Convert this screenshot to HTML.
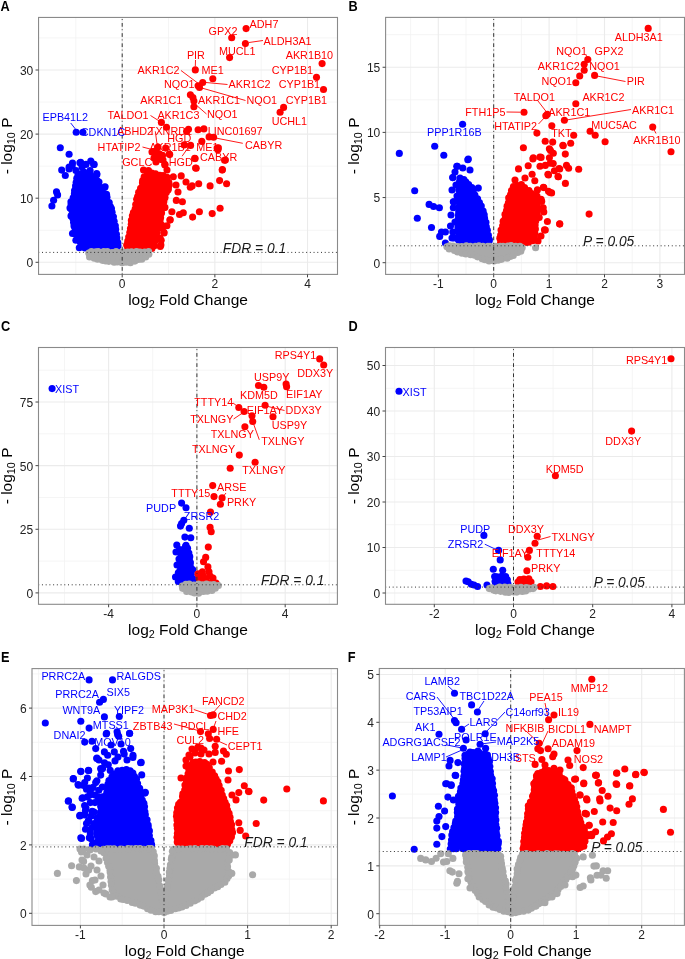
<!DOCTYPE html><html><head><meta charset="utf-8"><style>html,body{margin:0;padding:0;background:#fff;}svg{display:block;filter:blur(0.35px);}text{font-family:"Liberation Sans", sans-serif;}</style></head><body>
<svg width="685" height="959" viewBox="0 0 685 959">
<rect width="685" height="959" fill="#fff"/>
<g>
<line x1="75.87" y1="17.45" x2="75.87" y2="274.4" stroke="#f2f2f2" stroke-width="0.8"/>
<line x1="168.53" y1="17.45" x2="168.53" y2="274.4" stroke="#f2f2f2" stroke-width="0.8"/>
<line x1="261.19" y1="17.45" x2="261.19" y2="274.4" stroke="#f2f2f2" stroke-width="0.8"/>
<line x1="38.55" y1="230.25" x2="337.5" y2="230.25" stroke="#f2f2f2" stroke-width="0.8"/>
<line x1="38.55" y1="166.15" x2="337.5" y2="166.15" stroke="#f2f2f2" stroke-width="0.8"/>
<line x1="38.55" y1="102.05" x2="337.5" y2="102.05" stroke="#f2f2f2" stroke-width="0.8"/>
<line x1="38.55" y1="37.95" x2="337.5" y2="37.95" stroke="#f2f2f2" stroke-width="0.8"/>
<line x1="122.2" y1="17.45" x2="122.2" y2="274.4" stroke="#ebebeb" stroke-width="1.1"/>
<line x1="214.86" y1="17.45" x2="214.86" y2="274.4" stroke="#ebebeb" stroke-width="1.1"/>
<line x1="307.52" y1="17.45" x2="307.52" y2="274.4" stroke="#ebebeb" stroke-width="1.1"/>
<line x1="38.55" y1="262.3" x2="337.5" y2="262.3" stroke="#ebebeb" stroke-width="1.1"/>
<line x1="38.55" y1="198.2" x2="337.5" y2="198.2" stroke="#ebebeb" stroke-width="1.1"/>
<line x1="38.55" y1="134.1" x2="337.5" y2="134.1" stroke="#ebebeb" stroke-width="1.1"/>
<line x1="38.55" y1="70" x2="337.5" y2="70" stroke="#ebebeb" stroke-width="1.1"/>
</g>
<path d="M79.63,178.64 L75.9,182.37 L75.06,190.69 L70.77,202.19 L72.18,215.93 L76.47,235.8 L81.74,246.42 L84.9,248.48 L118.61,248.48 L117.31,237.25 L112.98,214.19 L105.97,194.61 L99.41,187.65 L95.62,178.19 L89.77,175.26 L79.63,178.64Z" fill="#0000ff"/>
<g fill="#0000ff"><circle cx="79.17" cy="179.67" r="3.55"/><circle cx="76.18" cy="182.2" r="3.55"/><circle cx="75.58" cy="185.78" r="3.55"/><circle cx="74.57" cy="190.48" r="3.55"/><circle cx="74.39" cy="193.73" r="3.55"/><circle cx="73.18" cy="197.84" r="3.55"/><circle cx="70.95" cy="201.68" r="3.55"/><circle cx="71.11" cy="204.61" r="3.55"/><circle cx="71.22" cy="208.96" r="3.55"/><circle cx="71.92" cy="214.48" r="3.55"/><circle cx="72.85" cy="218.22" r="3.55"/><circle cx="73.55" cy="222.22" r="3.55"/><circle cx="75.18" cy="227.46" r="3.55"/><circle cx="75.13" cy="230.29" r="3.55"/><circle cx="75.56" cy="234.29" r="3.55"/><circle cx="77.97" cy="237.84" r="3.55"/><circle cx="80.21" cy="241.89" r="3.55"/><circle cx="81.57" cy="245.04" r="3.55"/><circle cx="84.9" cy="247.97" r="3.55"/><circle cx="88.9" cy="248.21" r="3.55"/><circle cx="91.59" cy="249.04" r="3.55"/><circle cx="96.56" cy="248.18" r="3.55"/><circle cx="99.53" cy="248.84" r="3.55"/><circle cx="104.38" cy="248.42" r="3.55"/><circle cx="108.73" cy="248.04" r="3.55"/><circle cx="112.86" cy="248.39" r="3.55"/><circle cx="116.45" cy="249.05" r="3.55"/><circle cx="118.01" cy="245.76" r="3.55"/><circle cx="117.76" cy="242.6" r="3.55"/><circle cx="116.85" cy="237.96" r="3.55"/><circle cx="116.42" cy="234.34" r="3.55"/><circle cx="115.66" cy="229.26" r="3.55"/><circle cx="115.32" cy="225.8" r="3.55"/><circle cx="114.15" cy="221.18" r="3.55"/><circle cx="113.41" cy="216.69" r="3.55"/><circle cx="112.09" cy="212.35" r="3.55"/><circle cx="111.44" cy="208.52" r="3.55"/><circle cx="110.35" cy="206.58" r="3.55"/><circle cx="109.21" cy="202.62" r="3.55"/><circle cx="106.96" cy="197.17" r="3.55"/><circle cx="106.54" cy="194.33" r="3.55"/><circle cx="102.12" cy="191.23" r="3.55"/><circle cx="99.46" cy="187.58" r="3.55"/><circle cx="97.45" cy="183.72" r="3.55"/><circle cx="96.96" cy="180.6" r="3.55"/><circle cx="95.04" cy="177.29" r="3.55"/><circle cx="90.97" cy="175.93" r="3.55"/><circle cx="86.97" cy="175.9" r="3.55"/><circle cx="82.2" cy="177.47" r="3.55"/></g>
<g fill="#0000ff"><circle cx="60.3" cy="147.7" r="3.55"/><circle cx="69.1" cy="154.2" r="3.55"/><circle cx="61.7" cy="170.1" r="3.55"/><circle cx="65.3" cy="175.5" r="3.55"/><circle cx="56.5" cy="191.9" r="3.55"/><circle cx="57.6" cy="194.9" r="3.55"/><circle cx="53.6" cy="200.3" r="3.55"/><circle cx="51.9" cy="206" r="3.55"/><circle cx="75.9" cy="188.4" r="3.55"/><circle cx="105.1" cy="186.8" r="3.55"/><circle cx="72.5" cy="163" r="3.55"/><circle cx="69.1" cy="167.1" r="3.55"/><circle cx="80.7" cy="162.4" r="3.55"/><circle cx="90.8" cy="161" r="3.55"/><circle cx="94.2" cy="164.4" r="3.55"/><circle cx="75.9" cy="170.5" r="3.55"/><circle cx="82" cy="167.1" r="3.55"/><circle cx="90.1" cy="170.5" r="3.55"/><circle cx="96.9" cy="174.6" r="3.55"/><circle cx="80.7" cy="180.7" r="3.55"/><circle cx="91.5" cy="183.4" r="3.55"/><circle cx="84.7" cy="184.7" r="3.55"/><circle cx="72.5" cy="233.5" r="3.55"/><circle cx="75.9" cy="240.3" r="3.55"/><circle cx="79.3" cy="247.8" r="3.55"/><circle cx="76.2" cy="132.2" r="3.55"/><circle cx="82.9" cy="132.2" r="3.55"/><circle cx="72.2" cy="165.9" r="3.55"/><circle cx="79.9" cy="162.8" r="3.55"/><circle cx="86" cy="164.4" r="3.55"/><circle cx="93.6" cy="164.4" r="3.55"/><circle cx="96.7" cy="173.6" r="3.55"/><circle cx="89" cy="175.1" r="3.55"/><circle cx="81.4" cy="173.6" r="3.55"/><circle cx="76.8" cy="178.2" r="3.55"/><circle cx="84.5" cy="181.2" r="3.55"/><circle cx="92.1" cy="182.8" r="3.55"/><circle cx="98.2" cy="184.3" r="3.55"/><circle cx="104.4" cy="187.4" r="3.55"/><circle cx="69.1" cy="169" r="3.55"/><circle cx="78" cy="175" r="3.55"/><circle cx="86" cy="176" r="3.55"/><circle cx="93" cy="178" r="3.55"/><circle cx="99" cy="182" r="3.55"/><circle cx="88" cy="189" r="3.55"/><circle cx="84" cy="172" r="3.55"/><circle cx="71" cy="216" r="3.55"/><circle cx="70" cy="208" r="3.55"/><circle cx="74" cy="226" r="3.55"/></g>
<path d="M125.71,247.98 L153.55,247.98 L154.73,242.35 L156.45,231.64 L159.97,219.39 L163.48,201.79 L167.95,189.31 L169.48,184.81 L168.14,178.34 L162.81,175.68 L154.4,173.96 L150.05,173.09 L145.53,174.13 L143.81,177.44 L141.29,185.87 L136.01,203.4 L131.75,220.76 L128.24,238.28 L125.71,247.98Z" fill="#ff0000"/>
<g fill="#ff0000"><circle cx="127.77" cy="248.17" r="3.55"/><circle cx="131.13" cy="247.55" r="3.55"/><circle cx="133.52" cy="248.47" r="3.55"/><circle cx="139.93" cy="247.41" r="3.55"/><circle cx="143.41" cy="248.26" r="3.55"/><circle cx="147.67" cy="247.47" r="3.55"/><circle cx="151.9" cy="248.46" r="3.55"/><circle cx="154.32" cy="245.84" r="3.55"/><circle cx="154.75" cy="241.33" r="3.55"/><circle cx="156.03" cy="236.92" r="3.55"/><circle cx="156.65" cy="233.18" r="3.55"/><circle cx="156.98" cy="229.41" r="3.55"/><circle cx="157.76" cy="225.5" r="3.55"/><circle cx="160.04" cy="220.98" r="3.55"/><circle cx="160.6" cy="217.74" r="3.55"/><circle cx="161.55" cy="212.97" r="3.55"/><circle cx="161.5" cy="209" r="3.55"/><circle cx="162.47" cy="205.47" r="3.55"/><circle cx="163.85" cy="201.65" r="3.55"/><circle cx="164.4" cy="197.37" r="3.55"/><circle cx="166.27" cy="192.62" r="3.55"/><circle cx="168.34" cy="188.67" r="3.55"/><circle cx="169.27" cy="185.01" r="3.55"/><circle cx="168.79" cy="182.23" r="3.55"/><circle cx="167.02" cy="177.42" r="3.55"/><circle cx="163.11" cy="175.5" r="3.55"/><circle cx="159.85" cy="175.41" r="3.55"/><circle cx="155.55" cy="173.81" r="3.55"/><circle cx="151.75" cy="173.17" r="3.55"/><circle cx="147.56" cy="173.79" r="3.55"/><circle cx="144.18" cy="176.7" r="3.55"/><circle cx="142.7" cy="180.46" r="3.55"/><circle cx="142.46" cy="182.9" r="3.55"/><circle cx="140.58" cy="188.29" r="3.55"/><circle cx="138.67" cy="192.2" r="3.55"/><circle cx="137.64" cy="196.49" r="3.55"/><circle cx="136.68" cy="199.19" r="3.55"/><circle cx="135.71" cy="204.52" r="3.55"/><circle cx="135.14" cy="209" r="3.55"/><circle cx="133.4" cy="212.51" r="3.55"/><circle cx="132.38" cy="215.74" r="3.55"/><circle cx="131.38" cy="220.41" r="3.55"/><circle cx="131.3" cy="224.19" r="3.55"/><circle cx="130.47" cy="228.56" r="3.55"/><circle cx="129.77" cy="232.57" r="3.55"/><circle cx="128.69" cy="236.94" r="3.55"/><circle cx="127.77" cy="241.14" r="3.55"/><circle cx="126.68" cy="245.01" r="3.55"/></g>
<g fill="#ff0000"><circle cx="246.1" cy="28.6" r="3.55"/><circle cx="231.7" cy="37.7" r="3.55"/><circle cx="245.4" cy="43.6" r="3.55"/><circle cx="229.6" cy="57.6" r="3.55"/><circle cx="322.1" cy="63.6" r="3.55"/><circle cx="195.3" cy="69.9" r="3.55"/><circle cx="212.8" cy="78.7" r="3.55"/><circle cx="316.5" cy="77.3" r="3.55"/><circle cx="323.5" cy="89.5" r="3.55"/><circle cx="283.6" cy="107.4" r="3.55"/><circle cx="280.1" cy="112.3" r="3.55"/><circle cx="202.7" cy="82.5" r="3.55"/><circle cx="198.1" cy="85.7" r="3.55"/><circle cx="199.5" cy="87.5" r="3.55"/><circle cx="190.4" cy="94.8" r="3.55"/><circle cx="192.9" cy="97.6" r="3.55"/><circle cx="193.9" cy="101" r="3.55"/><circle cx="193.9" cy="106.7" r="3.55"/><circle cx="161.4" cy="122.4" r="3.55"/><circle cx="166.5" cy="127.3" r="3.55"/><circle cx="186.6" cy="131.3" r="3.55"/><circle cx="188.5" cy="129.3" r="3.55"/><circle cx="198.1" cy="129.7" r="3.55"/><circle cx="203.9" cy="128.9" r="3.55"/><circle cx="209.1" cy="136.9" r="3.55"/><circle cx="213.6" cy="137.2" r="3.55"/><circle cx="201.8" cy="141.4" r="3.55"/><circle cx="184.2" cy="144.9" r="3.55"/><circle cx="190.6" cy="145.4" r="3.55"/><circle cx="217.1" cy="148.1" r="3.55"/><circle cx="217.9" cy="149.7" r="3.55"/><circle cx="195.1" cy="158.6" r="3.55"/><circle cx="224.6" cy="160.2" r="3.55"/><circle cx="196.2" cy="168.2" r="3.55"/><circle cx="222.4" cy="169.5" r="3.55"/><circle cx="164.9" cy="165" r="3.55"/><circle cx="156.1" cy="150.5" r="3.55"/><circle cx="159.3" cy="153.8" r="3.55"/><circle cx="162.5" cy="155.4" r="3.55"/><circle cx="156.9" cy="158.6" r="3.55"/><circle cx="169.7" cy="154.6" r="3.55"/><circle cx="165.7" cy="148.1" r="3.55"/><circle cx="155.3" cy="155.4" r="3.55"/><circle cx="160.9" cy="159.4" r="3.55"/><circle cx="143.5" cy="170" r="3.55"/><circle cx="148.5" cy="170.5" r="3.55"/><circle cx="225.4" cy="160.1" r="3.55"/><circle cx="222.2" cy="170.1" r="3.55"/><circle cx="219.6" cy="180.6" r="3.55"/><circle cx="226.6" cy="183.8" r="3.55"/><circle cx="210.1" cy="185.9" r="3.55"/><circle cx="198.7" cy="183.8" r="3.55"/><circle cx="192.1" cy="185.9" r="3.55"/><circle cx="190.3" cy="187.3" r="3.55"/><circle cx="186" cy="182" r="3.55"/><circle cx="181.2" cy="175.9" r="3.55"/><circle cx="173.3" cy="176.8" r="3.55"/><circle cx="195.6" cy="168" r="3.55"/><circle cx="194.7" cy="158.4" r="3.55"/><circle cx="218.4" cy="147.9" r="3.55"/><circle cx="220.1" cy="208.3" r="3.55"/><circle cx="212.2" cy="213.6" r="3.55"/><circle cx="199.4" cy="211.8" r="3.55"/><circle cx="192.6" cy="217.1" r="3.55"/><circle cx="183.3" cy="212.7" r="3.55"/><circle cx="179.5" cy="214.5" r="3.55"/><circle cx="171.9" cy="211.8" r="3.55"/><circle cx="176.3" cy="200.4" r="3.55"/><circle cx="182.4" cy="201.7" r="3.55"/><circle cx="170.2" cy="219.7" r="3.55"/><circle cx="166.9" cy="225.8" r="3.55"/><circle cx="164.1" cy="232.9" r="3.55"/><circle cx="160.9" cy="245.1" r="3.55"/><circle cx="164.9" cy="164.2" r="3.55"/><circle cx="169.3" cy="154" r="3.55"/><circle cx="164.9" cy="197.8" r="3.55"/><circle cx="164.9" cy="207.4" r="3.55"/><circle cx="152" cy="152" r="3.55"/><circle cx="158" cy="147" r="3.55"/><circle cx="163" cy="160" r="3.55"/><circle cx="156" cy="162" r="3.55"/><circle cx="154" cy="158" r="3.55"/><circle cx="167" cy="170" r="3.55"/><circle cx="176" cy="185" r="3.55"/><circle cx="178" cy="192" r="3.55"/><circle cx="168" cy="190" r="3.55"/><circle cx="160" cy="238" r="3.55"/><circle cx="162" cy="228" r="3.55"/><circle cx="163.8" cy="207.8" r="3.55"/><circle cx="164.7" cy="197.3" r="3.55"/><circle cx="162" cy="225.3" r="3.55"/><circle cx="163.8" cy="232.3" r="3.55"/><circle cx="161.2" cy="240.2" r="3.55"/><circle cx="160.3" cy="246.4" r="3.55"/><circle cx="169.9" cy="220.1" r="3.55"/></g>
<path d="M87.74,252.02 L90.03,256.92 L101.66,259.86 L112.45,262.01 L122.06,262.97 L129.49,262.51 L141.76,259.01 L149.29,254.31 L150.07,252.02 L87.74,252.02Z" fill="#a9a9a9"/>
<g fill="#a9a9a9"><circle cx="88.83" cy="253.16" r="3.55"/><circle cx="89.58" cy="256.99" r="3.55"/><circle cx="94.25" cy="258.21" r="3.55"/><circle cx="97.59" cy="259.28" r="3.55"/><circle cx="102.38" cy="260.34" r="3.55"/><circle cx="105.81" cy="261.01" r="3.55"/><circle cx="108.9" cy="261.33" r="3.55"/><circle cx="114.11" cy="262.13" r="3.55"/><circle cx="117.41" cy="261.95" r="3.55"/><circle cx="122.01" cy="262.75" r="3.55"/><circle cx="126.07" cy="262.27" r="3.55"/><circle cx="130.41" cy="262.73" r="3.55"/><circle cx="134.91" cy="261.11" r="3.55"/><circle cx="138.26" cy="259.54" r="3.55"/><circle cx="141.76" cy="259.13" r="3.55"/><circle cx="145.7" cy="256.99" r="3.55"/><circle cx="148.83" cy="254.32" r="3.55"/><circle cx="148.65" cy="251.67" r="3.55"/><circle cx="144.61" cy="252.05" r="3.55"/><circle cx="140.02" cy="252.06" r="3.55"/><circle cx="136.5" cy="251.45" r="3.55"/><circle cx="131.5" cy="251.9" r="3.55"/><circle cx="127.71" cy="252.01" r="3.55"/><circle cx="123.18" cy="252.06" r="3.55"/><circle cx="120.58" cy="252.53" r="3.55"/><circle cx="116.12" cy="251.57" r="3.55"/><circle cx="112.13" cy="252.5" r="3.55"/><circle cx="107.34" cy="251.65" r="3.55"/><circle cx="103.72" cy="251.57" r="3.55"/><circle cx="98.25" cy="251.65" r="3.55"/><circle cx="95.83" cy="251.8" r="3.55"/><circle cx="91.42" cy="251.54" r="3.55"/></g>
<g fill="#a9a9a9"></g>
<line x1="122.2" y1="17.45" x2="122.2" y2="274.4" stroke="#333" stroke-width="1" stroke-dasharray="0.96 2.93 3.74 2.54" stroke-dashoffset="8.52"/>
<line x1="38.55" y1="252.4" x2="337.5" y2="252.4" stroke="#333" stroke-width="1" stroke-dasharray="1 2.72" stroke-dashoffset="0.27"/>
<line x1="249" y1="42.5" x2="263" y2="40.5" stroke="#ff0000" stroke-width="0.9"/>
<line x1="195.5" y1="60" x2="195.3" y2="66.5" stroke="#ff0000" stroke-width="0.9"/>
<line x1="181" y1="70.5" x2="199" y2="84" stroke="#ff0000" stroke-width="0.9"/>
<line x1="206" y1="82.5" x2="227.5" y2="84.5" stroke="#ff0000" stroke-width="0.9"/>
<line x1="200" y1="87.5" x2="245.5" y2="100.5" stroke="#ff0000" stroke-width="0.9"/>
<line x1="195" y1="104" x2="206.5" y2="114" stroke="#ff0000" stroke-width="0.9"/>
<line x1="150.5" y1="115.5" x2="160" y2="121.5" stroke="#ff0000" stroke-width="0.9"/>
<line x1="155.3" y1="131.3" x2="157.7" y2="149" stroke="#ff0000" stroke-width="0.9"/>
<line x1="142.5" y1="147" x2="152" y2="149.5" stroke="#ff0000" stroke-width="0.9"/>
<line x1="182.1" y1="156.2" x2="189" y2="146.5" stroke="#ff0000" stroke-width="0.9"/>
<line x1="214" y1="137.7" x2="242.8" y2="143.3" stroke="#ff0000" stroke-width="0.9"/>
<line x1="70.7" y1="123" x2="76.2" y2="130" stroke="#0000ff" stroke-width="0.9"/>
<text x="208.6" y="34.7" font-size="10.8" fill="#ff0000">GPX2</text>
<text x="249.6" y="28.1" font-size="10.8" fill="#ff0000">ADH7</text>
<text x="263.6" y="44.5" font-size="10.8" fill="#ff0000">ALDH3A1</text>
<text x="219" y="55" font-size="10.8" fill="#ff0000">MUCL1</text>
<text x="285.7" y="59.2" font-size="10.8" fill="#ff0000">AKR1B10</text>
<text x="186.9" y="58.5" font-size="10.8" fill="#ff0000">PIR</text>
<text x="201.6" y="74" font-size="10.8" fill="#ff0000">ME1</text>
<text x="271.7" y="74.3" font-size="10.8" fill="#ff0000">CYP1B1</text>
<text x="137.5" y="74.3" font-size="10.8" fill="#ff0000">AKR1C2</text>
<text x="164" y="88.3" font-size="10.8" fill="#ff0000">NQO1</text>
<text x="228.6" y="88.3" font-size="10.8" fill="#ff0000">AKR1C2</text>
<text x="278.7" y="88.3" font-size="10.8" fill="#ff0000">CYP1B1</text>
<text x="140.3" y="104.1" font-size="10.8" fill="#ff0000">AKR1C1</text>
<text x="198" y="104.1" font-size="10.8" fill="#ff0000">AKR1C1</text>
<text x="246.5" y="104.1" font-size="10.8" fill="#ff0000">NQO1</text>
<text x="285.7" y="104.1" font-size="10.8" fill="#ff0000">CYP1B1</text>
<text x="107.4" y="118.6" font-size="10.8" fill="#ff0000">TALDO1</text>
<text x="157.4" y="118.6" font-size="10.8" fill="#ff0000">AKR1C3</text>
<text x="207" y="118.1" font-size="10.8" fill="#ff0000">NQO1</text>
<text x="271.7" y="125.1" font-size="10.8" fill="#ff0000">UCHL1</text>
<text x="117" y="134.8" font-size="10.8" fill="#ff0000">ABHD2</text>
<text x="148.8" y="134.8" font-size="10.8" fill="#ff0000">TXNRD1</text>
<text x="207.8" y="134.7" font-size="10.8" fill="#ff0000">LINC01697</text>
<text x="167.2" y="141.8" font-size="10.8" fill="#ff0000">HGD</text>
<text x="245" y="148.5" font-size="10.8" fill="#ff0000">CABYR</text>
<text x="97.6" y="150.7" font-size="10.8" fill="#ff0000">HTATIP2</text>
<text x="149.4" y="150.7" font-size="10.8" fill="#ff0000">AKR1B1</text>
<text x="196.3" y="150.7" font-size="10.8" fill="#ff0000">ME1</text>
<text x="200" y="160.5" font-size="10.8" fill="#ff0000">CABYR</text>
<text x="122.2" y="165.5" font-size="10.8" fill="#ff0000">GCLC</text>
<text x="168.8" y="165.5" font-size="10.8" fill="#ff0000">HGD</text>
<text x="42.5" y="121" font-size="10.8" fill="#0000ff">EPB41L2</text>
<text x="80.8" y="135.7" font-size="10.8" fill="#0000ff">CDKN1C</text>
<rect x="38.55" y="17.45" width="298.95" height="256.95" fill="none" stroke="#8a8a8a" stroke-width="1.1"/>
<line x1="122.2" y1="274.4" x2="122.2" y2="277.4" stroke="#444444" stroke-width="1"/>
<text x="122.2" y="288.4" text-anchor="middle" font-size="12" fill="#222222">0</text>
<line x1="214.86" y1="274.4" x2="214.86" y2="277.4" stroke="#444444" stroke-width="1"/>
<text x="214.86" y="288.4" text-anchor="middle" font-size="12" fill="#222222">2</text>
<line x1="307.52" y1="274.4" x2="307.52" y2="277.4" stroke="#444444" stroke-width="1"/>
<text x="307.52" y="288.4" text-anchor="middle" font-size="12" fill="#222222">4</text>
<line x1="35.55" y1="262.3" x2="38.55" y2="262.3" stroke="#444444" stroke-width="1"/>
<text x="33.25" y="267.2" text-anchor="end" font-size="12" fill="#222222">0</text>
<line x1="35.55" y1="198.2" x2="38.55" y2="198.2" stroke="#444444" stroke-width="1"/>
<text x="33.25" y="203.1" text-anchor="end" font-size="12" fill="#222222">10</text>
<line x1="35.55" y1="134.1" x2="38.55" y2="134.1" stroke="#444444" stroke-width="1"/>
<text x="33.25" y="139" text-anchor="end" font-size="12" fill="#222222">20</text>
<line x1="35.55" y1="70" x2="38.55" y2="70" stroke="#444444" stroke-width="1"/>
<text x="33.25" y="74.9" text-anchor="end" font-size="12" fill="#222222">30</text>
<text x="188.03" y="304.7" text-anchor="middle" font-size="15.5" fill="#000">log<tspan font-size="10.8" dy="3.2">2</tspan><tspan dy="-3.2"> Fold Change</tspan></text>
<text transform="translate(12,145.92) rotate(-90)" text-anchor="middle" font-size="15.5" fill="#000">- log<tspan font-size="10.8" dy="3.2">10</tspan><tspan dy="-3.2"> P</tspan></text>
<text transform="translate(0.5,10.5) scale(0.85,1)" font-size="15" font-weight="bold" fill="#000">A</text>
<text x="222.8" y="252.5" font-size="13.8" font-style="italic" fill="#1a1a1a">FDR = 0.1</text>
<g>
<line x1="410.6" y1="17.4" x2="410.6" y2="274.4" stroke="#f2f2f2" stroke-width="0.8"/>
<line x1="466" y1="17.4" x2="466" y2="274.4" stroke="#f2f2f2" stroke-width="0.8"/>
<line x1="521.4" y1="17.4" x2="521.4" y2="274.4" stroke="#f2f2f2" stroke-width="0.8"/>
<line x1="576.8" y1="17.4" x2="576.8" y2="274.4" stroke="#f2f2f2" stroke-width="0.8"/>
<line x1="632.2" y1="17.4" x2="632.2" y2="274.4" stroke="#f2f2f2" stroke-width="0.8"/>
<line x1="385.6" y1="230.12" x2="684.5" y2="230.12" stroke="#f2f2f2" stroke-width="0.8"/>
<line x1="385.6" y1="164.97" x2="684.5" y2="164.97" stroke="#f2f2f2" stroke-width="0.8"/>
<line x1="385.6" y1="99.82" x2="684.5" y2="99.82" stroke="#f2f2f2" stroke-width="0.8"/>
<line x1="385.6" y1="34.68" x2="684.5" y2="34.68" stroke="#f2f2f2" stroke-width="0.8"/>
<line x1="438.3" y1="17.4" x2="438.3" y2="274.4" stroke="#ebebeb" stroke-width="1.1"/>
<line x1="493.7" y1="17.4" x2="493.7" y2="274.4" stroke="#ebebeb" stroke-width="1.1"/>
<line x1="549.1" y1="17.4" x2="549.1" y2="274.4" stroke="#ebebeb" stroke-width="1.1"/>
<line x1="604.5" y1="17.4" x2="604.5" y2="274.4" stroke="#ebebeb" stroke-width="1.1"/>
<line x1="659.9" y1="17.4" x2="659.9" y2="274.4" stroke="#ebebeb" stroke-width="1.1"/>
<line x1="385.6" y1="262.7" x2="684.5" y2="262.7" stroke="#ebebeb" stroke-width="1.1"/>
<line x1="385.6" y1="197.55" x2="684.5" y2="197.55" stroke="#ebebeb" stroke-width="1.1"/>
<line x1="385.6" y1="132.4" x2="684.5" y2="132.4" stroke="#ebebeb" stroke-width="1.1"/>
<line x1="385.6" y1="67.25" x2="684.5" y2="67.25" stroke="#ebebeb" stroke-width="1.1"/>
</g>
<path d="M460.76,176.98 L459.99,180.45 L459.02,192.62 L459.02,213.72 L458.02,226.82 L458.02,241.98 L489.63,241.98 L487.15,227.35 L481.97,208.38 L476.9,198.15 L471.82,188.08 L464.37,180.53 L460.76,176.98Z" fill="#0000ff"/>
<g fill="#0000ff"><circle cx="460.05" cy="178.17" r="3.55"/><circle cx="459.55" cy="181.48" r="3.55"/><circle cx="459.41" cy="185.77" r="3.55"/><circle cx="458.81" cy="189.8" r="3.55"/><circle cx="459.18" cy="194.49" r="3.55"/><circle cx="459.15" cy="199.38" r="3.55"/><circle cx="459.31" cy="202.44" r="3.55"/><circle cx="458.8" cy="207.09" r="3.55"/><circle cx="458.68" cy="212.08" r="3.55"/><circle cx="458.44" cy="215.24" r="3.55"/><circle cx="458.29" cy="218.93" r="3.55"/><circle cx="458.16" cy="224.07" r="3.55"/><circle cx="457.91" cy="226.9" r="3.55"/><circle cx="457.66" cy="230.86" r="3.55"/><circle cx="458.58" cy="235.79" r="3.55"/><circle cx="458.33" cy="239.72" r="3.55"/><circle cx="459.82" cy="241.47" r="3.55"/><circle cx="462.81" cy="242.04" r="3.55"/><circle cx="468.27" cy="241.56" r="3.55"/><circle cx="471.42" cy="242.39" r="3.55"/><circle cx="477.76" cy="241.5" r="3.55"/><circle cx="480.39" cy="241.94" r="3.55"/><circle cx="484.94" cy="241.94" r="3.55"/><circle cx="488.79" cy="242.1" r="3.55"/><circle cx="489.44" cy="239.88" r="3.55"/><circle cx="488.41" cy="235.4" r="3.55"/><circle cx="487.35" cy="230.27" r="3.55"/><circle cx="486.32" cy="226.91" r="3.55"/><circle cx="485.93" cy="222.41" r="3.55"/><circle cx="484.55" cy="218.38" r="3.55"/><circle cx="484.21" cy="214.84" r="3.55"/><circle cx="483.14" cy="211.17" r="3.55"/><circle cx="481.27" cy="206.11" r="3.55"/><circle cx="479.43" cy="202.57" r="3.55"/><circle cx="477.55" cy="198.71" r="3.55"/><circle cx="474.89" cy="195" r="3.55"/><circle cx="473.14" cy="191.7" r="3.55"/><circle cx="471.84" cy="187.64" r="3.55"/><circle cx="468.63" cy="184.46" r="3.55"/><circle cx="465.94" cy="182.08" r="3.55"/><circle cx="463.85" cy="179.6" r="3.55"/></g>
<g fill="#0000ff"><circle cx="462.6" cy="124.2" r="3.55"/><circle cx="399.3" cy="153.4" r="3.55"/><circle cx="434.7" cy="146.2" r="3.55"/><circle cx="443.8" cy="155.2" r="3.55"/><circle cx="468.3" cy="159.1" r="3.55"/><circle cx="414.7" cy="190.7" r="3.55"/><circle cx="429.1" cy="204.4" r="3.55"/><circle cx="433.6" cy="206.5" r="3.55"/><circle cx="439.4" cy="207.8" r="3.55"/><circle cx="417.3" cy="218.3" r="3.55"/><circle cx="431.5" cy="227.5" r="3.55"/><circle cx="441.5" cy="232" r="3.55"/><circle cx="445.4" cy="232" r="3.55"/><circle cx="439.7" cy="236.4" r="3.55"/><circle cx="445.4" cy="243" r="3.55"/><circle cx="452.8" cy="232" r="3.55"/><circle cx="453.3" cy="207.8" r="3.55"/><circle cx="453.8" cy="201.7" r="3.55"/><circle cx="457.3" cy="166.3" r="3.55"/><circle cx="452.8" cy="177.6" r="3.55"/><circle cx="478.3" cy="188.1" r="3.55"/><circle cx="455" cy="172" r="3.55"/><circle cx="456" cy="185" r="3.55"/><circle cx="457" cy="196" r="3.55"/><circle cx="455" cy="222" r="3.55"/><circle cx="454" cy="238" r="3.55"/><circle cx="452.8" cy="177.6" r="3.55"/><circle cx="453.3" cy="201.7" r="3.55"/><circle cx="452" cy="190" r="3.55"/><circle cx="451" cy="215" r="3.55"/><circle cx="450.5" cy="226" r="3.55"/><circle cx="452" cy="238" r="3.55"/><circle cx="456.8" cy="166.3" r="3.55"/><circle cx="467.8" cy="159.8" r="3.55"/><circle cx="462.8" cy="168" r="3.55"/><circle cx="470" cy="170" r="3.55"/></g>
<path d="M499.13,241.98 L531.5,241.98 L535.38,236.27 L535.38,223.81 L537.92,210.91 L535.21,197.81 L527.49,189.17 L521.04,184.69 L513.23,186.84 L510.07,193.48 L506.14,211.58 L502.24,227.38 L499.13,241.98Z" fill="#ff0000"/>
<g fill="#ff0000"><circle cx="500.61" cy="242.56" r="3.55"/><circle cx="503.48" cy="242.27" r="3.55"/><circle cx="507.79" cy="241.44" r="3.55"/><circle cx="511.84" cy="241.5" r="3.55"/><circle cx="516.74" cy="242.04" r="3.55"/><circle cx="521.42" cy="242.06" r="3.55"/><circle cx="526.02" cy="242.35" r="3.55"/><circle cx="528.61" cy="242.29" r="3.55"/><circle cx="532.64" cy="240.65" r="3.55"/><circle cx="534.48" cy="237.01" r="3.55"/><circle cx="534.85" cy="233.3" r="3.55"/><circle cx="535.41" cy="229.02" r="3.55"/><circle cx="535.13" cy="225.01" r="3.55"/><circle cx="535.8" cy="220.64" r="3.55"/><circle cx="536.19" cy="216.41" r="3.55"/><circle cx="537.09" cy="213.34" r="3.55"/><circle cx="537.87" cy="208.67" r="3.55"/><circle cx="537.25" cy="205.37" r="3.55"/><circle cx="536.3" cy="200.63" r="3.55"/><circle cx="534.52" cy="196.1" r="3.55"/><circle cx="531.64" cy="193.5" r="3.55"/><circle cx="528.97" cy="190.57" r="3.55"/><circle cx="524.53" cy="187.59" r="3.55"/><circle cx="521.41" cy="184.65" r="3.55"/><circle cx="517.3" cy="185.53" r="3.55"/><circle cx="513.45" cy="186.48" r="3.55"/><circle cx="511.52" cy="190.57" r="3.55"/><circle cx="510.57" cy="194.51" r="3.55"/><circle cx="508.7" cy="197.91" r="3.55"/><circle cx="508.41" cy="202.87" r="3.55"/><circle cx="507.09" cy="206.15" r="3.55"/><circle cx="506.52" cy="210.5" r="3.55"/><circle cx="504.99" cy="214.41" r="3.55"/><circle cx="504.77" cy="219.59" r="3.55"/><circle cx="503.12" cy="221.39" r="3.55"/><circle cx="502.64" cy="225.87" r="3.55"/><circle cx="501.04" cy="230.12" r="3.55"/><circle cx="500.69" cy="235.08" r="3.55"/><circle cx="499.84" cy="238.16" r="3.55"/></g>
<g fill="#ff0000"><circle cx="648.2" cy="28.4" r="3.55"/><circle cx="587.8" cy="59.5" r="3.55"/><circle cx="584.2" cy="64.3" r="3.55"/><circle cx="584.2" cy="70.3" r="3.55"/><circle cx="579.7" cy="76" r="3.55"/><circle cx="594.6" cy="75.4" r="3.55"/><circle cx="575.8" cy="82.8" r="3.55"/><circle cx="575.8" cy="103.8" r="3.55"/><circle cx="524" cy="112.2" r="3.55"/><circle cx="547.3" cy="114.3" r="3.55"/><circle cx="545.8" cy="115.8" r="3.55"/><circle cx="564.4" cy="120.3" r="3.55"/><circle cx="551.8" cy="125.7" r="3.55"/><circle cx="536.9" cy="133.1" r="3.55"/><circle cx="590.1" cy="131.3" r="3.55"/><circle cx="595.2" cy="135.2" r="3.55"/><circle cx="605.1" cy="141.8" r="3.55"/><circle cx="573.7" cy="135.2" r="3.55"/><circle cx="652.7" cy="127.1" r="3.55"/><circle cx="671" cy="151.7" r="3.55"/><circle cx="545.2" cy="141.2" r="3.55"/><circle cx="552.7" cy="142.1" r="3.55"/><circle cx="523.4" cy="147.8" r="3.55"/><circle cx="549.4" cy="148.7" r="3.55"/><circle cx="553.3" cy="153.2" r="3.55"/><circle cx="563.2" cy="145.7" r="3.55"/><circle cx="570.7" cy="143.3" r="3.55"/><circle cx="565.3" cy="154.1" r="3.55"/><circle cx="533.3" cy="157.7" r="3.55"/><circle cx="539.9" cy="157.1" r="3.55"/><circle cx="549.4" cy="157.7" r="3.55"/><circle cx="518.5" cy="168.9" r="3.55"/><circle cx="532.9" cy="158.9" r="3.55"/><circle cx="528.2" cy="165.7" r="3.55"/><circle cx="532.1" cy="174.2" r="3.55"/><circle cx="534.8" cy="180.7" r="3.55"/><circle cx="540" cy="166.3" r="3.55"/><circle cx="550.5" cy="150.5" r="3.55"/><circle cx="553.2" cy="163.6" r="3.55"/><circle cx="547.9" cy="174.2" r="3.55"/><circle cx="558.4" cy="176.8" r="3.55"/><circle cx="559.7" cy="169" r="3.55"/><circle cx="543.4" cy="187.3" r="3.55"/><circle cx="550" cy="192.5" r="3.55"/><circle cx="537.4" cy="189.9" r="3.55"/><circle cx="542.6" cy="209.6" r="3.55"/><circle cx="539.2" cy="217.5" r="3.55"/><circle cx="547.4" cy="221.5" r="3.55"/><circle cx="544.5" cy="229.9" r="3.55"/><circle cx="559.7" cy="224.1" r="3.55"/><circle cx="562.9" cy="145.3" r="3.55"/><circle cx="541.1" cy="157.4" r="3.55"/><circle cx="550.2" cy="163.3" r="3.55"/><circle cx="545.3" cy="165.4" r="3.55"/><circle cx="566.5" cy="165.4" r="3.55"/><circle cx="568.6" cy="168.2" r="3.55"/><circle cx="578.7" cy="169.2" r="3.55"/><circle cx="559.1" cy="168.6" r="3.55"/><circle cx="554.4" cy="170.7" r="3.55"/><circle cx="548.5" cy="174.9" r="3.55"/><circle cx="558" cy="176.6" r="3.55"/><circle cx="565.4" cy="183.4" r="3.55"/><circle cx="543.8" cy="187.6" r="3.55"/><circle cx="548.5" cy="191.2" r="3.55"/><circle cx="551.6" cy="192.9" r="3.55"/><circle cx="541.1" cy="199.3" r="3.55"/><circle cx="541.7" cy="201.4" r="3.55"/><circle cx="543.2" cy="207.7" r="3.55"/><circle cx="543.8" cy="212" r="3.55"/><circle cx="589.1" cy="214.1" r="3.55"/><circle cx="559.7" cy="223.8" r="3.55"/><circle cx="545.3" cy="230" r="3.55"/><circle cx="525" cy="178" r="3.55"/><circle cx="515" cy="180" r="3.55"/><circle cx="537" cy="196" r="3.55"/><circle cx="541" cy="236" r="3.55"/><circle cx="538" cy="241" r="3.55"/></g>
<path d="M446.14,246.02 L451.99,250.21 L472.53,255.3 L492.74,261.84 L509.99,256.68 L521.73,250.9 L523,246.02 L446.14,246.02Z" fill="#a9a9a9"/>
<g fill="#a9a9a9"><circle cx="446.9" cy="246.76" r="3.55"/><circle cx="449.18" cy="248.89" r="3.55"/><circle cx="454.43" cy="250.39" r="3.55"/><circle cx="457.54" cy="252.03" r="3.55"/><circle cx="461.97" cy="253.22" r="3.55"/><circle cx="465.82" cy="253.92" r="3.55"/><circle cx="470.69" cy="254.71" r="3.55"/><circle cx="473.92" cy="255.1" r="3.55"/><circle cx="477.49" cy="256.86" r="3.55"/><circle cx="482.1" cy="258.8" r="3.55"/><circle cx="484.99" cy="259.64" r="3.55"/><circle cx="489.08" cy="261" r="3.55"/><circle cx="494" cy="260.96" r="3.55"/><circle cx="497.99" cy="260.19" r="3.55"/><circle cx="501.58" cy="259.36" r="3.55"/><circle cx="507.13" cy="258.19" r="3.55"/><circle cx="510.19" cy="256.5" r="3.55"/><circle cx="513.28" cy="255.53" r="3.55"/><circle cx="517.7" cy="252.57" r="3.55"/><circle cx="520.79" cy="251.16" r="3.55"/><circle cx="522.2" cy="247.75" r="3.55"/><circle cx="519.9" cy="246.42" r="3.55"/><circle cx="515.69" cy="246.33" r="3.55"/><circle cx="511.12" cy="245.44" r="3.55"/><circle cx="507.87" cy="246.1" r="3.55"/><circle cx="503.08" cy="246.38" r="3.55"/><circle cx="500.29" cy="246.36" r="3.55"/><circle cx="495.53" cy="246.3" r="3.55"/><circle cx="490" cy="246.18" r="3.55"/><circle cx="487.89" cy="246.2" r="3.55"/><circle cx="482.92" cy="246.34" r="3.55"/><circle cx="478.94" cy="245.89" r="3.55"/><circle cx="475.32" cy="246.22" r="3.55"/><circle cx="470.38" cy="246.28" r="3.55"/><circle cx="466.31" cy="245.91" r="3.55"/><circle cx="461.64" cy="246.44" r="3.55"/><circle cx="457.71" cy="246.48" r="3.55"/><circle cx="453.05" cy="246.05" r="3.55"/><circle cx="449.49" cy="245.92" r="3.55"/></g>
<g fill="#a9a9a9"><circle cx="535.6" cy="247.7" r="3.55"/></g>
<line x1="493.7" y1="17.4" x2="493.7" y2="274.4" stroke="#333" stroke-width="1" stroke-dasharray="0.96 2.93 3.74 2.54" stroke-dashoffset="8.52"/>
<line x1="385.6" y1="245.8" x2="684.5" y2="245.8" stroke="#333" stroke-width="1" stroke-dasharray="1 2.72" stroke-dashoffset="0.27"/>
<line x1="586" y1="55" x2="588" y2="59" stroke="#ff0000" stroke-width="0.9"/>
<line x1="597" y1="76" x2="625.5" y2="81.5" stroke="#ff0000" stroke-width="0.9"/>
<line x1="538" y1="101" x2="546.5" y2="112" stroke="#ff0000" stroke-width="0.9"/>
<line x1="564.4" y1="120.3" x2="631" y2="109.5" stroke="#ff0000" stroke-width="0.9"/>
<line x1="538.5" y1="124" x2="546" y2="116" stroke="#ff0000" stroke-width="0.9"/>
<line x1="506.5" y1="112" x2="520.5" y2="112.2" stroke="#ff0000" stroke-width="0.9"/>
<line x1="652.7" y1="127" x2="656" y2="133.5" stroke="#ff0000" stroke-width="0.9"/>
<text x="614.7" y="41" font-size="10.8" fill="#ff0000">ALDH3A1</text>
<text x="556.3" y="55.4" font-size="10.8" fill="#ff0000">NQO1</text>
<text x="594.6" y="55.4" font-size="10.8" fill="#ff0000">GPX2</text>
<text x="537.8" y="70.4" font-size="10.8" fill="#ff0000">AKR1C2</text>
<text x="589.2" y="70.4" font-size="10.8" fill="#ff0000">NQO1</text>
<text x="541.4" y="85.3" font-size="10.8" fill="#ff0000">NQO1</text>
<text x="626.7" y="85.3" font-size="10.8" fill="#ff0000">PIR</text>
<text x="513.8" y="101.2" font-size="10.8" fill="#ff0000">TALDO1</text>
<text x="582.4" y="101.2" font-size="10.8" fill="#ff0000">AKR1C2</text>
<text x="465.2" y="115.5" font-size="10.8" fill="#ff0000">FTH1P5</text>
<text x="548.2" y="115.9" font-size="10.8" fill="#ff0000">AKR1C1</text>
<text x="632" y="113.8" font-size="10.8" fill="#ff0000">AKR1C1</text>
<text x="494.2" y="130.2" font-size="10.8" fill="#ff0000">HTATIP2</text>
<text x="591.3" y="128.7" font-size="10.8" fill="#ff0000">MUC5AC</text>
<text x="551.2" y="136.8" font-size="10.8" fill="#ff0000">TKT</text>
<text x="633.2" y="143.7" font-size="10.8" fill="#ff0000">AKR1B10</text>
<text x="427" y="135.9" font-size="10.8" fill="#0000ff">PPP1R16B</text>
<rect x="385.6" y="17.4" width="298.9" height="257" fill="none" stroke="#8a8a8a" stroke-width="1.1"/>
<line x1="438.3" y1="274.4" x2="438.3" y2="277.4" stroke="#444444" stroke-width="1"/>
<text x="438.3" y="288.4" text-anchor="middle" font-size="12" fill="#222222">-1</text>
<line x1="493.7" y1="274.4" x2="493.7" y2="277.4" stroke="#444444" stroke-width="1"/>
<text x="493.7" y="288.4" text-anchor="middle" font-size="12" fill="#222222">0</text>
<line x1="549.1" y1="274.4" x2="549.1" y2="277.4" stroke="#444444" stroke-width="1"/>
<text x="549.1" y="288.4" text-anchor="middle" font-size="12" fill="#222222">1</text>
<line x1="604.5" y1="274.4" x2="604.5" y2="277.4" stroke="#444444" stroke-width="1"/>
<text x="604.5" y="288.4" text-anchor="middle" font-size="12" fill="#222222">2</text>
<line x1="659.9" y1="274.4" x2="659.9" y2="277.4" stroke="#444444" stroke-width="1"/>
<text x="659.9" y="288.4" text-anchor="middle" font-size="12" fill="#222222">3</text>
<line x1="382.6" y1="262.7" x2="385.6" y2="262.7" stroke="#444444" stroke-width="1"/>
<text x="380.3" y="267.6" text-anchor="end" font-size="12" fill="#222222">0</text>
<line x1="382.6" y1="197.55" x2="385.6" y2="197.55" stroke="#444444" stroke-width="1"/>
<text x="380.3" y="202.45" text-anchor="end" font-size="12" fill="#222222">5</text>
<line x1="382.6" y1="132.4" x2="385.6" y2="132.4" stroke="#444444" stroke-width="1"/>
<text x="380.3" y="137.3" text-anchor="end" font-size="12" fill="#222222">10</text>
<line x1="382.6" y1="67.25" x2="385.6" y2="67.25" stroke="#444444" stroke-width="1"/>
<text x="380.3" y="72.15" text-anchor="end" font-size="12" fill="#222222">15</text>
<text x="535.05" y="304.7" text-anchor="middle" font-size="15.5" fill="#000">log<tspan font-size="10.8" dy="3.2">2</tspan><tspan dy="-3.2"> Fold Change</tspan></text>
<text transform="translate(359,145.9) rotate(-90)" text-anchor="middle" font-size="15.5" fill="#000">- log<tspan font-size="10.8" dy="3.2">10</tspan><tspan dy="-3.2"> P</tspan></text>
<text transform="translate(348.6,10.5) scale(0.85,1)" font-size="15" font-weight="bold" fill="#000">B</text>
<text x="583" y="245.9" font-size="13.8" font-style="italic" fill="#1a1a1a">P = 0.05</text>
<g>
<line x1="64.48" y1="347.5" x2="64.48" y2="604.3" stroke="#f2f2f2" stroke-width="0.8"/>
<line x1="152.76" y1="347.5" x2="152.76" y2="604.3" stroke="#f2f2f2" stroke-width="0.8"/>
<line x1="241.04" y1="347.5" x2="241.04" y2="604.3" stroke="#f2f2f2" stroke-width="0.8"/>
<line x1="329.32" y1="347.5" x2="329.32" y2="604.3" stroke="#f2f2f2" stroke-width="0.8"/>
<line x1="38.5" y1="561.09" x2="337.4" y2="561.09" stroke="#f2f2f2" stroke-width="0.8"/>
<line x1="38.5" y1="497.46" x2="337.4" y2="497.46" stroke="#f2f2f2" stroke-width="0.8"/>
<line x1="38.5" y1="433.84" x2="337.4" y2="433.84" stroke="#f2f2f2" stroke-width="0.8"/>
<line x1="38.5" y1="370.21" x2="337.4" y2="370.21" stroke="#f2f2f2" stroke-width="0.8"/>
<line x1="108.62" y1="347.5" x2="108.62" y2="604.3" stroke="#ebebeb" stroke-width="1.1"/>
<line x1="196.9" y1="347.5" x2="196.9" y2="604.3" stroke="#ebebeb" stroke-width="1.1"/>
<line x1="285.18" y1="347.5" x2="285.18" y2="604.3" stroke="#ebebeb" stroke-width="1.1"/>
<line x1="38.5" y1="592.9" x2="337.4" y2="592.9" stroke="#ebebeb" stroke-width="1.1"/>
<line x1="38.5" y1="529.27" x2="337.4" y2="529.27" stroke="#ebebeb" stroke-width="1.1"/>
<line x1="38.5" y1="465.65" x2="337.4" y2="465.65" stroke="#ebebeb" stroke-width="1.1"/>
<line x1="38.5" y1="402.02" x2="337.4" y2="402.02" stroke="#ebebeb" stroke-width="1.1"/>
</g>
<path d="M181.83,548.86 L181.01,556.22 L180.52,569.89 L181.71,580.98 L191.29,580.98 L190,560.34 L188.18,549.45 L185.5,546.76 L181.83,548.86Z" fill="#0000ff"/>
<g fill="#0000ff"><circle cx="181.33" cy="549.87" r="3.55"/><circle cx="181.02" cy="554.42" r="3.55"/><circle cx="180.87" cy="557.5" r="3.55"/><circle cx="180.23" cy="563.12" r="3.55"/><circle cx="180.83" cy="566.51" r="3.55"/><circle cx="180.07" cy="570.52" r="3.55"/><circle cx="181.62" cy="574.98" r="3.55"/><circle cx="181.12" cy="578.65" r="3.55"/><circle cx="184.48" cy="581.1" r="3.55"/><circle cx="188.11" cy="580.72" r="3.55"/><circle cx="191.51" cy="579.35" r="3.55"/><circle cx="191.27" cy="574.63" r="3.55"/><circle cx="191.12" cy="571.36" r="3.55"/><circle cx="190.44" cy="566.98" r="3.55"/><circle cx="189.76" cy="561.37" r="3.55"/><circle cx="189.78" cy="556.73" r="3.55"/><circle cx="188.85" cy="553.08" r="3.55"/><circle cx="187.57" cy="548.33" r="3.55"/><circle cx="185.5" cy="546.65" r="3.55"/></g>
<g fill="#0000ff"><circle cx="52.1" cy="388.6" r="3.55"/><circle cx="181.6" cy="503.1" r="3.55"/><circle cx="186" cy="507.7" r="3.55"/><circle cx="183.8" cy="520.2" r="3.55"/><circle cx="181.6" cy="523.5" r="3.55"/><circle cx="180.5" cy="526.1" r="3.55"/><circle cx="189.3" cy="528.3" r="3.55"/><circle cx="184.9" cy="537.1" r="3.55"/><circle cx="190.8" cy="537.7" r="3.55"/><circle cx="176.8" cy="545" r="3.55"/><circle cx="186" cy="545.4" r="3.55"/><circle cx="176" cy="552" r="3.55"/><circle cx="177" cy="565" r="3.55"/><circle cx="175.5" cy="577" r="3.55"/><circle cx="179" cy="559" r="3.55"/><circle cx="179.4" cy="549.8" r="3.55"/><circle cx="187.1" cy="552" r="3.55"/><circle cx="182.7" cy="554.2" r="3.55"/><circle cx="189.3" cy="556.3" r="3.55"/><circle cx="183.8" cy="559.6" r="3.55"/><circle cx="190.4" cy="562.9" r="3.55"/><circle cx="182.7" cy="565.1" r="3.55"/><circle cx="188.2" cy="567.3" r="3.55"/><circle cx="178.3" cy="572.8" r="3.55"/><circle cx="192.6" cy="569.5" r="3.55"/><circle cx="184.9" cy="571.7" r="3.55"/><circle cx="180.5" cy="576" r="3.55"/><circle cx="190.4" cy="576" r="3.55"/><circle cx="186" cy="578.2" r="3.55"/><circle cx="178.3" cy="581.5" r="3.55"/><circle cx="193.6" cy="579.3" r="3.55"/></g>
<g fill="#ff0000"><circle cx="319.7" cy="358.9" r="3.55"/><circle cx="323.7" cy="365" r="3.55"/><circle cx="258.5" cy="385.5" r="3.55"/><circle cx="263.8" cy="387.3" r="3.55"/><circle cx="286.1" cy="384.1" r="3.55"/><circle cx="286.6" cy="386.8" r="3.55"/><circle cx="238.8" cy="407.5" r="3.55"/><circle cx="244.1" cy="411.5" r="3.55"/><circle cx="265.1" cy="405.2" r="3.55"/><circle cx="252" cy="415.7" r="3.55"/><circle cx="252.7" cy="421.5" r="3.55"/><circle cx="273" cy="416.7" r="3.55"/><circle cx="244.9" cy="426.7" r="3.55"/><circle cx="239.3" cy="455.1" r="3.55"/><circle cx="255.1" cy="462.2" r="3.55"/><circle cx="230.2" cy="468.2" r="3.55"/><circle cx="212.7" cy="485.6" r="3.55"/><circle cx="214" cy="496.6" r="3.55"/><circle cx="222.1" cy="497.9" r="3.55"/><circle cx="220.4" cy="504.2" r="3.55"/><circle cx="210.5" cy="512.1" r="3.55"/><circle cx="210.1" cy="527.4" r="3.55"/><circle cx="211.2" cy="531.8" r="3.55"/><circle cx="208.3" cy="547.1" r="3.55"/><circle cx="205.7" cy="557.4" r="3.55"/><circle cx="203.5" cy="561.8" r="3.55"/><circle cx="207.9" cy="566.9" r="3.55"/><circle cx="202.4" cy="571.7" r="3.55"/><circle cx="210.1" cy="576" r="3.55"/><circle cx="205.7" cy="579.3" r="3.55"/><circle cx="200" cy="575" r="3.55"/><circle cx="213" cy="578" r="3.55"/><circle cx="199.1" cy="578.2" r="3.55"/><circle cx="212.3" cy="581.5" r="3.55"/><circle cx="198" cy="573.9" r="3.55"/><circle cx="209" cy="571.7" r="3.55"/><circle cx="203.5" cy="576" r="3.55"/><circle cx="201.3" cy="581.5" r="3.55"/><circle cx="206" cy="583" r="3.55"/><circle cx="216" cy="583" r="3.55"/></g>
<path d="M182.02,584.52 L182.02,587.67 L186.33,591.63 L196.94,592.95 L210.96,590.61 L218.06,586.51 L217.6,584.52 L182.02,584.52Z" fill="#a9a9a9"/>
<g fill="#a9a9a9"><circle cx="182.27" cy="585.98" r="3.55"/><circle cx="182.57" cy="588.34" r="3.55"/><circle cx="186.64" cy="591.53" r="3.55"/><circle cx="191.54" cy="591.92" r="3.55"/><circle cx="194.52" cy="593.03" r="3.55"/><circle cx="198.6" cy="593.15" r="3.55"/><circle cx="203.21" cy="591.55" r="3.55"/><circle cx="207.19" cy="591.14" r="3.55"/><circle cx="211.9" cy="590.49" r="3.55"/><circle cx="215.31" cy="588.31" r="3.55"/><circle cx="218.43" cy="585.48" r="3.55"/><circle cx="213.85" cy="584.57" r="3.55"/><circle cx="210.1" cy="584.92" r="3.55"/><circle cx="206.45" cy="584.01" r="3.55"/><circle cx="202.45" cy="584.78" r="3.55"/><circle cx="198.42" cy="584.04" r="3.55"/><circle cx="193.9" cy="585.08" r="3.55"/><circle cx="189.2" cy="583.93" r="3.55"/><circle cx="185.83" cy="584.2" r="3.55"/></g>
<g fill="#a9a9a9"></g>
<line x1="196.9" y1="347.5" x2="196.9" y2="604.3" stroke="#333" stroke-width="1" stroke-dasharray="0.96 2.93 3.74 2.54" stroke-dashoffset="8.52"/>
<line x1="38.5" y1="584.8" x2="337.4" y2="584.8" stroke="#333" stroke-width="1" stroke-dasharray="1 2.72" stroke-dashoffset="0.27"/>
<line x1="233" y1="403" x2="238.5" y2="407" stroke="#ff0000" stroke-width="0.9"/>
<line x1="233.6" y1="419" x2="244" y2="412" stroke="#ff0000" stroke-width="0.9"/>
<line x1="266" y1="406" x2="284.5" y2="410.5" stroke="#ff0000" stroke-width="0.9"/>
<line x1="252.7" y1="421.5" x2="259.3" y2="439.8" stroke="#ff0000" stroke-width="0.9"/>
<line x1="222" y1="497.9" x2="226" y2="493" stroke="#ff0000" stroke-width="0.9"/>
<text x="274.8" y="359.2" font-size="10.8" fill="#ff0000">RPS4Y1</text>
<text x="297.2" y="376.8" font-size="10.8" fill="#ff0000">DDX3Y</text>
<text x="254" y="380.8" font-size="10.8" fill="#ff0000">USP9Y</text>
<text x="240.1" y="399.1" font-size="10.8" fill="#ff0000">KDM5D</text>
<text x="286.1" y="397.8" font-size="10.8" fill="#ff0000">EIF1AY</text>
<text x="194.2" y="405.7" font-size="10.8" fill="#ff0000">TTTY14</text>
<text x="246.7" y="414.4" font-size="10.8" fill="#ff0000">EIF1AY</text>
<text x="285.6" y="414.4" font-size="10.8" fill="#ff0000">DDX3Y</text>
<text x="190.2" y="423.1" font-size="10.8" fill="#ff0000">TXLNGY</text>
<text x="271.7" y="429.4" font-size="10.8" fill="#ff0000">USP9Y</text>
<text x="210.7" y="438" font-size="10.8" fill="#ff0000">TXLNGY</text>
<text x="261.2" y="444.6" font-size="10.8" fill="#ff0000">TXLNGY</text>
<text x="192" y="453" font-size="10.8" fill="#ff0000">TXLNGY</text>
<text x="242.2" y="474" font-size="10.8" fill="#ff0000">TXLNGY</text>
<text x="217.1" y="491.2" font-size="10.8" fill="#ff0000">ARSE</text>
<text x="171.3" y="497.2" font-size="10.8" fill="#ff0000">TTTY15</text>
<text x="226.9" y="505.9" font-size="10.8" fill="#ff0000">PRKY</text>
<text x="55.1" y="393" font-size="10.8" fill="#0000ff">XIST</text>
<text x="146.1" y="512.1" font-size="10.8" fill="#0000ff">PUDP</text>
<text x="183.8" y="519.7" font-size="10.8" fill="#0000ff">ZRSR2</text>
<rect x="38.5" y="347.5" width="298.9" height="256.8" fill="none" stroke="#8a8a8a" stroke-width="1.1"/>
<line x1="108.62" y1="604.3" x2="108.62" y2="607.3" stroke="#444444" stroke-width="1"/>
<text x="108.62" y="618.3" text-anchor="middle" font-size="12" fill="#222222">-4</text>
<line x1="196.9" y1="604.3" x2="196.9" y2="607.3" stroke="#444444" stroke-width="1"/>
<text x="196.9" y="618.3" text-anchor="middle" font-size="12" fill="#222222">0</text>
<line x1="285.18" y1="604.3" x2="285.18" y2="607.3" stroke="#444444" stroke-width="1"/>
<text x="285.18" y="618.3" text-anchor="middle" font-size="12" fill="#222222">4</text>
<line x1="35.5" y1="592.9" x2="38.5" y2="592.9" stroke="#444444" stroke-width="1"/>
<text x="33.2" y="597.8" text-anchor="end" font-size="12" fill="#222222">0</text>
<line x1="35.5" y1="529.27" x2="38.5" y2="529.27" stroke="#444444" stroke-width="1"/>
<text x="33.2" y="534.17" text-anchor="end" font-size="12" fill="#222222">25</text>
<line x1="35.5" y1="465.65" x2="38.5" y2="465.65" stroke="#444444" stroke-width="1"/>
<text x="33.2" y="470.55" text-anchor="end" font-size="12" fill="#222222">50</text>
<line x1="35.5" y1="402.02" x2="38.5" y2="402.02" stroke="#444444" stroke-width="1"/>
<text x="33.2" y="406.92" text-anchor="end" font-size="12" fill="#222222">75</text>
<text x="187.95" y="634.6" text-anchor="middle" font-size="15.5" fill="#000">log<tspan font-size="10.8" dy="3.2">2</tspan><tspan dy="-3.2"> Fold Change</tspan></text>
<text transform="translate(12,475.9) rotate(-90)" text-anchor="middle" font-size="15.5" fill="#000">- log<tspan font-size="10.8" dy="3.2">10</tspan><tspan dy="-3.2"> P</tspan></text>
<text transform="translate(0.9,331.1) scale(0.85,1)" font-size="15" font-weight="bold" fill="#000">C</text>
<text x="261.1" y="584.9" font-size="13.8" font-style="italic" fill="#1a1a1a">FDR = 0.1</text>
<g>
<line x1="394.7" y1="347.5" x2="394.7" y2="604.3" stroke="#f2f2f2" stroke-width="0.8"/>
<line x1="473.9" y1="347.5" x2="473.9" y2="604.3" stroke="#f2f2f2" stroke-width="0.8"/>
<line x1="553.1" y1="347.5" x2="553.1" y2="604.3" stroke="#f2f2f2" stroke-width="0.8"/>
<line x1="632.3" y1="347.5" x2="632.3" y2="604.3" stroke="#f2f2f2" stroke-width="0.8"/>
<line x1="385.5" y1="570.25" x2="684.5" y2="570.25" stroke="#f2f2f2" stroke-width="0.8"/>
<line x1="385.5" y1="524.75" x2="684.5" y2="524.75" stroke="#f2f2f2" stroke-width="0.8"/>
<line x1="385.5" y1="479.25" x2="684.5" y2="479.25" stroke="#f2f2f2" stroke-width="0.8"/>
<line x1="385.5" y1="433.75" x2="684.5" y2="433.75" stroke="#f2f2f2" stroke-width="0.8"/>
<line x1="385.5" y1="388.25" x2="684.5" y2="388.25" stroke="#f2f2f2" stroke-width="0.8"/>
<line x1="434.3" y1="347.5" x2="434.3" y2="604.3" stroke="#ebebeb" stroke-width="1.1"/>
<line x1="513.5" y1="347.5" x2="513.5" y2="604.3" stroke="#ebebeb" stroke-width="1.1"/>
<line x1="592.7" y1="347.5" x2="592.7" y2="604.3" stroke="#ebebeb" stroke-width="1.1"/>
<line x1="671.9" y1="347.5" x2="671.9" y2="604.3" stroke="#ebebeb" stroke-width="1.1"/>
<line x1="385.5" y1="593" x2="684.5" y2="593" stroke="#ebebeb" stroke-width="1.1"/>
<line x1="385.5" y1="547.5" x2="684.5" y2="547.5" stroke="#ebebeb" stroke-width="1.1"/>
<line x1="385.5" y1="502" x2="684.5" y2="502" stroke="#ebebeb" stroke-width="1.1"/>
<line x1="385.5" y1="456.5" x2="684.5" y2="456.5" stroke="#ebebeb" stroke-width="1.1"/>
<line x1="385.5" y1="411" x2="684.5" y2="411" stroke="#ebebeb" stroke-width="1.1"/>
<line x1="385.5" y1="365.5" x2="684.5" y2="365.5" stroke="#ebebeb" stroke-width="1.1"/>
</g>
<path d="M494.72,576.12 L494.72,583.98 L508.3,583.98 L507.22,579.38 L503.94,575.44 L497.95,577.15 L494.72,576.12Z" fill="#0000ff"/>
<g fill="#0000ff"><circle cx="494.67" cy="576.46" r="3.55"/><circle cx="495.08" cy="581.49" r="3.55"/><circle cx="495.8" cy="583.83" r="3.55"/><circle cx="499.77" cy="583.79" r="3.55"/><circle cx="504.07" cy="583.69" r="3.55"/><circle cx="507.92" cy="583.78" r="3.55"/><circle cx="507.31" cy="579.72" r="3.55"/><circle cx="505.68" cy="576.57" r="3.55"/><circle cx="501.85" cy="576.11" r="3.55"/><circle cx="497.13" cy="576.89" r="3.55"/></g>
<g fill="#0000ff"><circle cx="399" cy="391.2" r="3.55"/><circle cx="483.9" cy="535.4" r="3.55"/><circle cx="498.6" cy="550.4" r="3.55"/><circle cx="500.2" cy="559.9" r="3.55"/><circle cx="493.3" cy="569.3" r="3.55"/><circle cx="502.7" cy="570.2" r="3.55"/><circle cx="468.2" cy="581.8" r="3.55"/><circle cx="471.3" cy="584.3" r="3.55"/><circle cx="477.6" cy="586.5" r="3.55"/><circle cx="487" cy="585" r="3.55"/><circle cx="466" cy="581" r="3.55"/><circle cx="474" cy="585" r="3.55"/></g>
<path d="M518.54,583.98 L529.48,583.98 L529.48,581.6 L525.32,578.78 L520.2,579.68 L518.54,583.98Z" fill="#ff0000"/>
<g fill="#ff0000"><circle cx="520.22" cy="583.49" r="3.55"/><circle cx="523.25" cy="583.53" r="3.55"/><circle cx="528.18" cy="584.49" r="3.55"/><circle cx="528.21" cy="580.9" r="3.55"/><circle cx="523.87" cy="578.97" r="3.55"/><circle cx="519.9" cy="579.6" r="3.55"/></g>
<g fill="#ff0000"><circle cx="671" cy="358.8" r="3.55"/><circle cx="631.6" cy="431.1" r="3.55"/><circle cx="555.4" cy="475.7" r="3.55"/><circle cx="537.2" cy="536.3" r="3.55"/><circle cx="535" cy="543.2" r="3.55"/><circle cx="529.4" cy="550.4" r="3.55"/><circle cx="527.8" cy="557.3" r="3.55"/><circle cx="526.9" cy="570.8" r="3.55"/><circle cx="528.8" cy="578.7" r="3.55"/><circle cx="540.4" cy="586.5" r="3.55"/><circle cx="546.6" cy="585.9" r="3.55"/><circle cx="552.9" cy="586.5" r="3.55"/><circle cx="518" cy="582" r="3.55"/><circle cx="522" cy="580" r="3.55"/><circle cx="525" cy="583" r="3.55"/><circle cx="531" cy="582" r="3.55"/></g>
<path d="M488.76,587.52 L488.81,587.95 L495.77,591.04 L511.96,592.47 L524.38,591.03 L535.29,587.68 L535.31,587.52 L488.76,587.52Z" fill="#a9a9a9"/>
<g fill="#a9a9a9"><circle cx="489.26" cy="588.62" r="3.55"/><circle cx="493.57" cy="590.11" r="3.55"/><circle cx="495.8" cy="590.87" r="3.55"/><circle cx="500.69" cy="591.37" r="3.55"/><circle cx="505.38" cy="592.25" r="3.55"/><circle cx="508.91" cy="592.55" r="3.55"/><circle cx="513.96" cy="592.07" r="3.55"/><circle cx="516.91" cy="592.1" r="3.55"/><circle cx="522.26" cy="591.54" r="3.55"/><circle cx="525.66" cy="591.06" r="3.55"/><circle cx="529.28" cy="588.91" r="3.55"/><circle cx="533.07" cy="588.62" r="3.55"/><circle cx="534.13" cy="587.35" r="3.55"/><circle cx="528.82" cy="588.09" r="3.55"/><circle cx="526.17" cy="587.57" r="3.55"/><circle cx="520.93" cy="587.23" r="3.55"/><circle cx="516.74" cy="587.9" r="3.55"/><circle cx="512.08" cy="587.91" r="3.55"/><circle cx="509.4" cy="587.21" r="3.55"/><circle cx="504.72" cy="587.14" r="3.55"/><circle cx="499.73" cy="586.96" r="3.55"/><circle cx="497.31" cy="588.04" r="3.55"/><circle cx="491.57" cy="587.72" r="3.55"/></g>
<g fill="#a9a9a9"></g>
<line x1="513.5" y1="347.5" x2="513.5" y2="604.3" stroke="#333" stroke-width="1" stroke-dasharray="0.96 2.93 3.74 2.54" stroke-dashoffset="8.52"/>
<line x1="385.5" y1="587.1" x2="684.5" y2="587.1" stroke="#333" stroke-width="1" stroke-dasharray="1 2.72" stroke-dashoffset="0.27"/>
<line x1="484.8" y1="544.2" x2="498" y2="550.4" stroke="#0000ff" stroke-width="0.9"/>
<line x1="538" y1="540" x2="550.5" y2="536.5" stroke="#ff0000" stroke-width="0.9"/>
<text x="625.9" y="363.6" font-size="10.8" fill="#ff0000">RPS4Y1</text>
<text x="605.3" y="444.6" font-size="10.8" fill="#ff0000">DDX3Y</text>
<text x="545.7" y="473" font-size="10.8" fill="#ff0000">KDM5D</text>
<text x="508" y="532.7" font-size="10.8" fill="#ff0000">DDX3Y</text>
<text x="551.4" y="541.2" font-size="10.8" fill="#ff0000">TXLNGY</text>
<text x="491.7" y="556.8" font-size="10.8" fill="#ff0000">EIF1AY</text>
<text x="536.3" y="556.8" font-size="10.8" fill="#ff0000">TTTY14</text>
<text x="531" y="571.9" font-size="10.8" fill="#ff0000">PRKY</text>
<text x="402.5" y="395.5" font-size="10.8" fill="#0000ff">XIST</text>
<text x="460.3" y="532.7" font-size="10.8" fill="#0000ff">PUDP</text>
<text x="447.8" y="548.4" font-size="10.8" fill="#0000ff">ZRSR2</text>
<rect x="385.5" y="347.5" width="299" height="256.8" fill="none" stroke="#8a8a8a" stroke-width="1.1"/>
<line x1="434.3" y1="604.3" x2="434.3" y2="607.3" stroke="#444444" stroke-width="1"/>
<text x="434.3" y="618.3" text-anchor="middle" font-size="12" fill="#222222">-2</text>
<line x1="513.5" y1="604.3" x2="513.5" y2="607.3" stroke="#444444" stroke-width="1"/>
<text x="513.5" y="618.3" text-anchor="middle" font-size="12" fill="#222222">0</text>
<line x1="592.7" y1="604.3" x2="592.7" y2="607.3" stroke="#444444" stroke-width="1"/>
<text x="592.7" y="618.3" text-anchor="middle" font-size="12" fill="#222222">2</text>
<line x1="671.9" y1="604.3" x2="671.9" y2="607.3" stroke="#444444" stroke-width="1"/>
<text x="671.9" y="618.3" text-anchor="middle" font-size="12" fill="#222222">4</text>
<line x1="382.5" y1="593" x2="385.5" y2="593" stroke="#444444" stroke-width="1"/>
<text x="380.2" y="597.9" text-anchor="end" font-size="12" fill="#222222">0</text>
<line x1="382.5" y1="547.5" x2="385.5" y2="547.5" stroke="#444444" stroke-width="1"/>
<text x="380.2" y="552.4" text-anchor="end" font-size="12" fill="#222222">10</text>
<line x1="382.5" y1="502" x2="385.5" y2="502" stroke="#444444" stroke-width="1"/>
<text x="380.2" y="506.9" text-anchor="end" font-size="12" fill="#222222">20</text>
<line x1="382.5" y1="456.5" x2="385.5" y2="456.5" stroke="#444444" stroke-width="1"/>
<text x="380.2" y="461.4" text-anchor="end" font-size="12" fill="#222222">30</text>
<line x1="382.5" y1="411" x2="385.5" y2="411" stroke="#444444" stroke-width="1"/>
<text x="380.2" y="415.9" text-anchor="end" font-size="12" fill="#222222">40</text>
<line x1="382.5" y1="365.5" x2="385.5" y2="365.5" stroke="#444444" stroke-width="1"/>
<text x="380.2" y="370.4" text-anchor="end" font-size="12" fill="#222222">50</text>
<text x="535" y="634.6" text-anchor="middle" font-size="15.5" fill="#000">log<tspan font-size="10.8" dy="3.2">2</tspan><tspan dy="-3.2"> Fold Change</tspan></text>
<text transform="translate(359,475.9) rotate(-90)" text-anchor="middle" font-size="15.5" fill="#000">- log<tspan font-size="10.8" dy="3.2">10</tspan><tspan dy="-3.2"> P</tspan></text>
<text transform="translate(348.5,331) scale(0.85,1)" font-size="15" font-weight="bold" fill="#000">D</text>
<text x="593.7" y="587.2" font-size="13.8" font-style="italic" fill="#1a1a1a">P = 0.05</text>
<g>
<line x1="38.6" y1="668.6" x2="38.6" y2="925.4" stroke="#f2f2f2" stroke-width="0.8"/>
<line x1="122.2" y1="668.6" x2="122.2" y2="925.4" stroke="#f2f2f2" stroke-width="0.8"/>
<line x1="205.8" y1="668.6" x2="205.8" y2="925.4" stroke="#f2f2f2" stroke-width="0.8"/>
<line x1="289.4" y1="668.6" x2="289.4" y2="925.4" stroke="#f2f2f2" stroke-width="0.8"/>
<line x1="32" y1="879.1" x2="337.5" y2="879.1" stroke="#f2f2f2" stroke-width="0.8"/>
<line x1="32" y1="810.7" x2="337.5" y2="810.7" stroke="#f2f2f2" stroke-width="0.8"/>
<line x1="32" y1="742.3" x2="337.5" y2="742.3" stroke="#f2f2f2" stroke-width="0.8"/>
<line x1="32" y1="673.9" x2="337.5" y2="673.9" stroke="#f2f2f2" stroke-width="0.8"/>
<line x1="80.4" y1="668.6" x2="80.4" y2="925.4" stroke="#ebebeb" stroke-width="1.1"/>
<line x1="164" y1="668.6" x2="164" y2="925.4" stroke="#ebebeb" stroke-width="1.1"/>
<line x1="247.6" y1="668.6" x2="247.6" y2="925.4" stroke="#ebebeb" stroke-width="1.1"/>
<line x1="331.2" y1="668.6" x2="331.2" y2="925.4" stroke="#ebebeb" stroke-width="1.1"/>
<line x1="32" y1="913.3" x2="337.5" y2="913.3" stroke="#ebebeb" stroke-width="1.1"/>
<line x1="32" y1="844.9" x2="337.5" y2="844.9" stroke="#ebebeb" stroke-width="1.1"/>
<line x1="32" y1="776.5" x2="337.5" y2="776.5" stroke="#ebebeb" stroke-width="1.1"/>
<line x1="32" y1="708.1" x2="337.5" y2="708.1" stroke="#ebebeb" stroke-width="1.1"/>
</g>
<path d="M109.24,779.33 L107.44,791.95 L101.67,807.35 L97.98,820.24 L97.14,830.97 L99.46,844.98 L151.14,844.98 L150.91,842.92 L148.03,825.95 L144.25,807.06 L139.61,788.3 L134.29,774.19 L128.39,769.76 L117.31,771.35 L109.24,779.33Z" fill="#0000ff"/>
<g fill="#0000ff"><circle cx="108.93" cy="780.64" r="3.55"/><circle cx="107.89" cy="784.35" r="3.55"/><circle cx="107.54" cy="788.1" r="3.55"/><circle cx="106.86" cy="792.47" r="3.55"/><circle cx="106.07" cy="795.63" r="3.55"/><circle cx="103.77" cy="800.47" r="3.55"/><circle cx="103.72" cy="803.47" r="3.55"/><circle cx="101.46" cy="807.86" r="3.55"/><circle cx="100.64" cy="812.31" r="3.55"/><circle cx="99.89" cy="816.05" r="3.55"/><circle cx="97.89" cy="820.1" r="3.55"/><circle cx="98.19" cy="823.84" r="3.55"/><circle cx="97.3" cy="828.33" r="3.55"/><circle cx="96.71" cy="831.87" r="3.55"/><circle cx="98.35" cy="836.71" r="3.55"/><circle cx="98.47" cy="840.53" r="3.55"/><circle cx="98.74" cy="843.3" r="3.55"/><circle cx="102.52" cy="844.44" r="3.55"/><circle cx="107.11" cy="844.67" r="3.55"/><circle cx="110.42" cy="844.67" r="3.55"/><circle cx="114.76" cy="845.54" r="3.55"/><circle cx="119.81" cy="844.89" r="3.55"/><circle cx="123.38" cy="845.28" r="3.55"/><circle cx="127.91" cy="844.5" r="3.55"/><circle cx="131.46" cy="845.03" r="3.55"/><circle cx="135.69" cy="844.68" r="3.55"/><circle cx="139.12" cy="844.46" r="3.55"/><circle cx="144.8" cy="844.86" r="3.55"/><circle cx="147.75" cy="844.44" r="3.55"/><circle cx="151.6" cy="844.66" r="3.55"/><circle cx="150.95" cy="840.63" r="3.55"/><circle cx="149.39" cy="835.8" r="3.55"/><circle cx="149.41" cy="830.9" r="3.55"/><circle cx="148.09" cy="827.31" r="3.55"/><circle cx="148.17" cy="824.97" r="3.55"/><circle cx="147.06" cy="819.92" r="3.55"/><circle cx="145.34" cy="814.69" r="3.55"/><circle cx="144.89" cy="811.86" r="3.55"/><circle cx="144.52" cy="806.68" r="3.55"/><circle cx="143.88" cy="803.34" r="3.55"/><circle cx="142.27" cy="800.16" r="3.55"/><circle cx="141" cy="795.01" r="3.55"/><circle cx="140.77" cy="792.51" r="3.55"/><circle cx="139.68" cy="788.42" r="3.55"/><circle cx="137.58" cy="783.54" r="3.55"/><circle cx="136.46" cy="779.14" r="3.55"/><circle cx="134.48" cy="776.58" r="3.55"/><circle cx="132.85" cy="773.12" r="3.55"/><circle cx="130.16" cy="770.74" r="3.55"/><circle cx="126.39" cy="769.61" r="3.55"/><circle cx="122.21" cy="770.39" r="3.55"/><circle cx="117.89" cy="770.9" r="3.55"/><circle cx="114.63" cy="774.02" r="3.55"/><circle cx="111.93" cy="776.83" r="3.55"/></g>
<g fill="#0000ff"><circle cx="89.1" cy="679.9" r="3.55"/><circle cx="112.5" cy="679.9" r="3.55"/><circle cx="103.4" cy="699.4" r="3.55"/><circle cx="99.6" cy="702.2" r="3.55"/><circle cx="104.4" cy="716.9" r="3.55"/><circle cx="119.3" cy="716.5" r="3.55"/><circle cx="45.3" cy="723" r="3.55"/><circle cx="80.8" cy="721.3" r="3.55"/><circle cx="89.1" cy="728.1" r="3.55"/><circle cx="106.2" cy="734" r="3.55"/><circle cx="117.1" cy="731.8" r="3.55"/><circle cx="118.7" cy="736.2" r="3.55"/><circle cx="129.6" cy="733.5" r="3.55"/><circle cx="84.7" cy="742.1" r="3.55"/><circle cx="92" cy="741.2" r="3.55"/><circle cx="68.3" cy="801.2" r="3.55"/><circle cx="72" cy="807.1" r="3.55"/><circle cx="73.4" cy="778.6" r="3.55"/><circle cx="78.6" cy="785.2" r="3.55"/><circle cx="80.8" cy="771.6" r="3.55"/><circle cx="88.7" cy="770.5" r="3.55"/><circle cx="84.7" cy="782.6" r="3.55"/><circle cx="82.1" cy="798.3" r="3.55"/><circle cx="79.9" cy="815.4" r="3.55"/><circle cx="84.3" cy="814.3" r="3.55"/><circle cx="88.7" cy="820.9" r="3.55"/><circle cx="81.5" cy="838.4" r="3.55"/><circle cx="92.4" cy="845" r="3.55"/><circle cx="96.8" cy="758.5" r="3.55"/><circle cx="101.2" cy="769.4" r="3.55"/><circle cx="95.7" cy="748.6" r="3.55"/><circle cx="104.4" cy="751.9" r="3.55"/><circle cx="114.3" cy="751.9" r="3.55"/><circle cx="107.7" cy="755.2" r="3.55"/><circle cx="124.2" cy="754.1" r="3.55"/><circle cx="130.7" cy="748.6" r="3.55"/><circle cx="132.9" cy="757.4" r="3.55"/><circle cx="141.2" cy="762.4" r="3.55"/><circle cx="141.7" cy="774.9" r="3.55"/><circle cx="145" cy="793.1" r="3.55"/><circle cx="106.6" cy="733.3" r="3.55"/><circle cx="117.6" cy="734.4" r="3.55"/><circle cx="129.6" cy="733.3" r="3.55"/><circle cx="95.7" cy="782.6" r="3.55"/><circle cx="102.3" cy="787" r="3.55"/><circle cx="111" cy="745" r="3.55"/><circle cx="121" cy="744" r="3.55"/><circle cx="99" cy="760" r="3.55"/><circle cx="118" cy="757" r="3.55"/><circle cx="127" cy="760" r="3.55"/><circle cx="90" cy="795" r="3.55"/><circle cx="86" cy="808" r="3.55"/><circle cx="90" cy="830" r="3.55"/><circle cx="94" cy="812" r="3.55"/><circle cx="89" cy="788" r="3.55"/><circle cx="73.2" cy="778.9" r="3.55"/><circle cx="78" cy="784.6" r="3.55"/><circle cx="83.6" cy="785.5" r="3.55"/><circle cx="80.8" cy="771.3" r="3.55"/><circle cx="88.4" cy="770.4" r="3.55"/><circle cx="87.4" cy="778" r="3.55"/><circle cx="96.9" cy="780.8" r="3.55"/><circle cx="100.7" cy="775.1" r="3.55"/><circle cx="102.6" cy="768.5" r="3.55"/><circle cx="90.3" cy="791.2" r="3.55"/><circle cx="95" cy="795" r="3.55"/><circle cx="99.8" cy="800.7" r="3.55"/><circle cx="82.7" cy="797.9" r="3.55"/><circle cx="68.5" cy="800.7" r="3.55"/><circle cx="72.3" cy="807.4" r="3.55"/><circle cx="84.6" cy="805.5" r="3.55"/><circle cx="90.3" cy="802.6" r="3.55"/><circle cx="92.2" cy="811.2" r="3.55"/><circle cx="79.8" cy="815.9" r="3.55"/><circle cx="84.6" cy="815" r="3.55"/><circle cx="88.4" cy="820.6" r="3.55"/><circle cx="92.2" cy="827.3" r="3.55"/><circle cx="90.3" cy="833.9" r="3.55"/><circle cx="80.8" cy="837.7" r="3.55"/><circle cx="89.3" cy="837.7" r="3.55"/><circle cx="93.1" cy="843.4" r="3.55"/><circle cx="96.9" cy="834.9" r="3.55"/><circle cx="97.9" cy="823.5" r="3.55"/><circle cx="100.7" cy="812.1" r="3.55"/><circle cx="102.6" cy="796.9" r="3.55"/><circle cx="108.3" cy="764.7" r="3.55"/><circle cx="115" cy="760.9" r="3.55"/><circle cx="123.5" cy="751.4" r="3.55"/><circle cx="133" cy="755.2" r="3.55"/><circle cx="140.6" cy="762.8" r="3.55"/><circle cx="104.5" cy="762.8" r="3.55"/><circle cx="96.9" cy="758" r="3.55"/><circle cx="121.6" cy="772.3" r="3.55"/><circle cx="114" cy="774.2" r="3.55"/><circle cx="110.2" cy="770.4" r="3.55"/><circle cx="100.7" cy="768.5" r="3.55"/><circle cx="145.3" cy="792.2" r="3.55"/><circle cx="86.5" cy="789.3" r="3.55"/><circle cx="93.1" cy="787.4" r="3.55"/><circle cx="98.8" cy="790.3" r="3.55"/><circle cx="87.4" cy="796.9" r="3.55"/><circle cx="95" cy="802.6" r="3.55"/><circle cx="85.5" cy="810.2" r="3.55"/><circle cx="91.2" cy="815.9" r="3.55"/><circle cx="96.9" cy="817.8" r="3.55"/><circle cx="86.5" cy="823.5" r="3.55"/><circle cx="94.1" cy="823.5" r="3.55"/><circle cx="85.5" cy="829.2" r="3.55"/><circle cx="91.2" cy="838.7" r="3.55"/><circle cx="96.9" cy="842.5" r="3.55"/><circle cx="100.7" cy="831.1" r="3.55"/><circle cx="102.6" cy="819.7" r="3.55"/><circle cx="100.7" cy="806.4" r="3.55"/><circle cx="97.9" cy="796.9" r="3.55"/></g>
<path d="M177.45,844.98 L221.92,844.98 L228.27,844.22 L232.88,832.86 L230.27,817.38 L226.24,806.47 L220.67,788.47 L213.97,773.71 L206.25,762.75 L197.38,761.14 L190.45,764.21 L187.64,772.73 L184.83,789.59 L180.47,801.1 L176.63,808.96 L177.45,844.98Z" fill="#ff0000"/>
<g fill="#ff0000"><circle cx="178.98" cy="844.6" r="3.55"/><circle cx="182.65" cy="844.81" r="3.55"/><circle cx="187.1" cy="845" r="3.55"/><circle cx="191.04" cy="845.2" r="3.55"/><circle cx="195.31" cy="844.59" r="3.55"/><circle cx="198.91" cy="845.11" r="3.55"/><circle cx="202.45" cy="845.31" r="3.55"/><circle cx="207.9" cy="844.67" r="3.55"/><circle cx="210.84" cy="845.08" r="3.55"/><circle cx="214.75" cy="845.1" r="3.55"/><circle cx="219.86" cy="845.43" r="3.55"/><circle cx="222.58" cy="844.27" r="3.55"/><circle cx="227.52" cy="844.23" r="3.55"/><circle cx="229.78" cy="840.87" r="3.55"/><circle cx="231.45" cy="836.64" r="3.55"/><circle cx="232.53" cy="832.53" r="3.55"/><circle cx="231.8" cy="829.46" r="3.55"/><circle cx="231.61" cy="824.84" r="3.55"/><circle cx="230.41" cy="821.5" r="3.55"/><circle cx="230.04" cy="817.33" r="3.55"/><circle cx="229.07" cy="813.4" r="3.55"/><circle cx="227.5" cy="810.01" r="3.55"/><circle cx="226.68" cy="805.51" r="3.55"/><circle cx="225.08" cy="802.28" r="3.55"/><circle cx="223.66" cy="798.61" r="3.55"/><circle cx="222.24" cy="795.02" r="3.55"/><circle cx="221.16" cy="790.21" r="3.55"/><circle cx="219.13" cy="785.63" r="3.55"/><circle cx="217.86" cy="781.87" r="3.55"/><circle cx="216.07" cy="779.05" r="3.55"/><circle cx="214.61" cy="775.74" r="3.55"/><circle cx="212.25" cy="772.12" r="3.55"/><circle cx="209.29" cy="767.73" r="3.55"/><circle cx="206.9" cy="764.24" r="3.55"/><circle cx="204.59" cy="762.48" r="3.55"/><circle cx="199.75" cy="761.45" r="3.55"/><circle cx="195.78" cy="762.12" r="3.55"/><circle cx="192.92" cy="762.65" r="3.55"/><circle cx="189.49" cy="765.52" r="3.55"/><circle cx="188.74" cy="769.03" r="3.55"/><circle cx="188.09" cy="773.78" r="3.55"/><circle cx="186.35" cy="778.16" r="3.55"/><circle cx="186.48" cy="780.91" r="3.55"/><circle cx="184.94" cy="785.08" r="3.55"/><circle cx="184.71" cy="790.01" r="3.55"/><circle cx="182.86" cy="793.88" r="3.55"/><circle cx="182.53" cy="796.87" r="3.55"/><circle cx="180.4" cy="802.29" r="3.55"/><circle cx="178.65" cy="804.25" r="3.55"/><circle cx="177.47" cy="807.97" r="3.55"/><circle cx="176.76" cy="812.81" r="3.55"/><circle cx="176.5" cy="816.28" r="3.55"/><circle cx="177.01" cy="819.99" r="3.55"/><circle cx="176.9" cy="824.98" r="3.55"/><circle cx="177.33" cy="828.46" r="3.55"/><circle cx="177.4" cy="833.41" r="3.55"/><circle cx="177.01" cy="837.35" r="3.55"/><circle cx="177.24" cy="841.97" r="3.55"/></g>
<g fill="#ff0000"><circle cx="210.5" cy="715.5" r="3.55"/><circle cx="213.2" cy="714.9" r="3.55"/><circle cx="213.2" cy="729.4" r="3.55"/><circle cx="200.5" cy="731.6" r="3.55"/><circle cx="208.3" cy="733.8" r="3.55"/><circle cx="209.6" cy="738.5" r="3.55"/><circle cx="216.6" cy="739.3" r="3.55"/><circle cx="215.2" cy="746.3" r="3.55"/><circle cx="215.2" cy="752.4" r="3.55"/><circle cx="223.5" cy="751" r="3.55"/><circle cx="226.3" cy="754.3" r="3.55"/><circle cx="221.6" cy="761.3" r="3.55"/><circle cx="228.5" cy="771" r="3.55"/><circle cx="239.3" cy="769.6" r="3.55"/><circle cx="244.3" cy="785.7" r="3.55"/><circle cx="248.5" cy="791.2" r="3.55"/><circle cx="238.8" cy="792.6" r="3.55"/><circle cx="286.8" cy="789" r="3.55"/><circle cx="263.7" cy="800.1" r="3.55"/><circle cx="323.4" cy="800.9" r="3.55"/><circle cx="256.2" cy="823.5" r="3.55"/><circle cx="249" cy="791.6" r="3.55"/><circle cx="238.8" cy="822.7" r="3.55"/><circle cx="240.2" cy="830.4" r="3.55"/><circle cx="236" cy="799.9" r="3.55"/><circle cx="245.7" cy="836" r="3.55"/><circle cx="195" cy="750" r="3.55"/><circle cx="201" cy="748" r="3.55"/><circle cx="190" cy="757" r="3.55"/><circle cx="228" cy="780" r="3.55"/><circle cx="232" cy="795" r="3.55"/><circle cx="186" cy="766" r="3.55"/><circle cx="181" cy="778" r="3.55"/><circle cx="192" cy="749" r="3.55"/><circle cx="198" cy="747" r="3.55"/><circle cx="204" cy="750" r="3.55"/><circle cx="189" cy="755" r="3.55"/><circle cx="209" cy="754" r="3.55"/><circle cx="195" cy="753" r="3.55"/><circle cx="201" cy="754" r="3.55"/><circle cx="186" cy="760" r="3.55"/><circle cx="213" cy="762" r="3.55"/></g>
<path d="M103.68,849.02 L104.9,855.14 L108.94,865.22 L110.98,879.56 L112.84,891.63 L118.89,898.18 L140.66,905.37 L155.22,911.47 L164.17,912.81 L168.39,911.52 L183.04,906.7 L197.58,899.39 L212.48,889.48 L224.15,883.65 L229.4,873.15 L226.88,863.16 L231.53,855.06 L227.32,849.02 L173.2,849.02 L169.98,870.48 L164.05,904.68 L163.72,904.69 L157.54,875.61 L154.52,860.49 L153.05,849.02 L103.68,849.02Z" fill="#a9a9a9"/>
<g fill="#a9a9a9"><circle cx="103.5" cy="849.2" r="3.55"/><circle cx="104" cy="852.82" r="3.55"/><circle cx="106.1" cy="858.31" r="3.55"/><circle cx="107.52" cy="862.48" r="3.55"/><circle cx="108.72" cy="866.28" r="3.55"/><circle cx="110.12" cy="870.16" r="3.55"/><circle cx="110.22" cy="872.59" r="3.55"/><circle cx="110.56" cy="876.93" r="3.55"/><circle cx="111.07" cy="881.45" r="3.55"/><circle cx="111.47" cy="885.23" r="3.55"/><circle cx="112.15" cy="889.92" r="3.55"/><circle cx="113.57" cy="892.76" r="3.55"/><circle cx="116.63" cy="896.29" r="3.55"/><circle cx="120.72" cy="899" r="3.55"/><circle cx="123.36" cy="899.54" r="3.55"/><circle cx="127.34" cy="900.48" r="3.55"/><circle cx="132.14" cy="902.49" r="3.55"/><circle cx="135.38" cy="903.15" r="3.55"/><circle cx="140.08" cy="905.1" r="3.55"/><circle cx="143.5" cy="906.1" r="3.55"/><circle cx="147.54" cy="908.74" r="3.55"/><circle cx="151.12" cy="910.25" r="3.55"/><circle cx="155.61" cy="911.65" r="3.55"/><circle cx="158.83" cy="911.76" r="3.55"/><circle cx="164.13" cy="912.6" r="3.55"/><circle cx="167.19" cy="911.28" r="3.55"/><circle cx="170.8" cy="910.49" r="3.55"/><circle cx="175.24" cy="908.76" r="3.55"/><circle cx="178.62" cy="907.91" r="3.55"/><circle cx="182" cy="906.94" r="3.55"/><circle cx="186.03" cy="905.38" r="3.55"/><circle cx="190.31" cy="903.2" r="3.55"/><circle cx="194.8" cy="900.87" r="3.55"/><circle cx="197.66" cy="899.35" r="3.55"/><circle cx="201.39" cy="897.24" r="3.55"/><circle cx="205.31" cy="894.1" r="3.55"/><circle cx="207.86" cy="892.63" r="3.55"/><circle cx="210.69" cy="890.8" r="3.55"/><circle cx="214.44" cy="888.05" r="3.55"/><circle cx="217.73" cy="886.68" r="3.55"/><circle cx="220.98" cy="884.46" r="3.55"/><circle cx="224.89" cy="882.2" r="3.55"/><circle cx="227.07" cy="878.45" r="3.55"/><circle cx="228.81" cy="875.66" r="3.55"/><circle cx="228.71" cy="871.59" r="3.55"/><circle cx="227.57" cy="866.68" r="3.55"/><circle cx="227.17" cy="863.09" r="3.55"/><circle cx="229.23" cy="860.02" r="3.55"/><circle cx="231.45" cy="855.24" r="3.55"/><circle cx="229.63" cy="852.51" r="3.55"/><circle cx="226.39" cy="848.87" r="3.55"/><circle cx="222.62" cy="848.64" r="3.55"/><circle cx="220.02" cy="849.55" r="3.55"/><circle cx="213.79" cy="849.24" r="3.55"/><circle cx="211.19" cy="848.89" r="3.55"/><circle cx="206.66" cy="848.48" r="3.55"/><circle cx="201.87" cy="848.47" r="3.55"/><circle cx="199.2" cy="849.61" r="3.55"/><circle cx="194.88" cy="848.45" r="3.55"/><circle cx="190.26" cy="848.87" r="3.55"/><circle cx="186.92" cy="849.42" r="3.55"/><circle cx="182.36" cy="849.16" r="3.55"/><circle cx="178.17" cy="848.88" r="3.55"/><circle cx="173.65" cy="849.38" r="3.55"/><circle cx="172.39" cy="851.33" r="3.55"/><circle cx="171.68" cy="857.13" r="3.55"/><circle cx="171.36" cy="859.31" r="3.55"/><circle cx="170.42" cy="864.82" r="3.55"/><circle cx="169.99" cy="868.24" r="3.55"/><circle cx="169.35" cy="871.93" r="3.55"/><circle cx="169.49" cy="875.8" r="3.55"/><circle cx="167.93" cy="880.08" r="3.55"/><circle cx="166.99" cy="886.07" r="3.55"/><circle cx="166.69" cy="889.22" r="3.55"/><circle cx="165.58" cy="892.82" r="3.55"/><circle cx="165.49" cy="896.96" r="3.55"/><circle cx="165" cy="902.33" r="3.55"/><circle cx="164.15" cy="904.96" r="3.55"/><circle cx="162.39" cy="900.73" r="3.55"/><circle cx="161.62" cy="897.03" r="3.55"/><circle cx="160.83" cy="892.17" r="3.55"/><circle cx="160.11" cy="889.88" r="3.55"/><circle cx="159.64" cy="885.68" r="3.55"/><circle cx="158.77" cy="879.92" r="3.55"/><circle cx="158.02" cy="876.32" r="3.55"/><circle cx="156.28" cy="872.22" r="3.55"/><circle cx="156.39" cy="868.29" r="3.55"/><circle cx="154.6" cy="863.83" r="3.55"/><circle cx="154.45" cy="860.66" r="3.55"/><circle cx="154.32" cy="855.88" r="3.55"/><circle cx="153.25" cy="851.73" r="3.55"/><circle cx="151.29" cy="848.53" r="3.55"/><circle cx="148.62" cy="848.67" r="3.55"/><circle cx="143.6" cy="849.23" r="3.55"/><circle cx="139.9" cy="848.59" r="3.55"/><circle cx="135.89" cy="848.43" r="3.55"/><circle cx="131.5" cy="848.8" r="3.55"/><circle cx="127.99" cy="848.66" r="3.55"/><circle cx="122.56" cy="849.32" r="3.55"/><circle cx="120.52" cy="848.93" r="3.55"/><circle cx="114.09" cy="848.91" r="3.55"/><circle cx="110.35" cy="848.75" r="3.55"/><circle cx="107.21" cy="848.8" r="3.55"/></g>
<g fill="#a9a9a9"><circle cx="57.4" cy="873.4" r="3.55"/><circle cx="71.6" cy="865.8" r="3.55"/><circle cx="76.4" cy="880.6" r="3.55"/><circle cx="79.3" cy="866.9" r="3.55"/><circle cx="83.6" cy="861.4" r="3.55"/><circle cx="88.7" cy="870.1" r="3.55"/><circle cx="91.3" cy="887.2" r="3.55"/><circle cx="95.7" cy="891.6" r="3.55"/><circle cx="92.4" cy="880.6" r="3.55"/><circle cx="252.6" cy="874.8" r="3.55"/><circle cx="235.4" cy="854.9" r="3.55"/><circle cx="231.8" cy="873.4" r="3.55"/><circle cx="81.5" cy="852" r="3.55"/><circle cx="82" cy="860" r="3.55"/><circle cx="84" cy="868" r="3.55"/><circle cx="86" cy="874" r="3.55"/><circle cx="89.9" cy="885" r="3.55"/><circle cx="80" cy="849" r="3.55"/><circle cx="104" cy="893" r="3.55"/><circle cx="110" cy="897" r="3.55"/><circle cx="84" cy="849" r="3.55"/><circle cx="90" cy="850" r="3.55"/><circle cx="96" cy="849" r="3.55"/><circle cx="87" cy="855" r="3.55"/><circle cx="94" cy="857" r="3.55"/><circle cx="99" cy="861" r="3.55"/><circle cx="91" cy="866" r="3.55"/><circle cx="97" cy="870" r="3.55"/><circle cx="101" cy="876" r="3.55"/><circle cx="95" cy="880" r="3.55"/><circle cx="103" cy="885" r="3.55"/><circle cx="99" cy="890" r="3.55"/><circle cx="106" cy="894" r="3.55"/><circle cx="112" cy="897" r="3.55"/><circle cx="101" cy="851" r="3.55"/></g>
<line x1="164" y1="668.6" x2="164" y2="925.4" stroke="#333" stroke-width="1" stroke-dasharray="0.96 2.93 3.74 2.54" stroke-dashoffset="8.52"/>
<line x1="32" y1="846.9" x2="337.5" y2="846.9" stroke="#333" stroke-width="1" stroke-dasharray="1 2.72" stroke-dashoffset="0.27"/>
<line x1="193.8" y1="709.5" x2="210" y2="715" stroke="#ff0000" stroke-width="0.9"/>
<line x1="212" y1="714" x2="220" y2="705" stroke="#ff0000" stroke-width="0.9"/>
<line x1="174" y1="724" x2="200" y2="731" stroke="#ff0000" stroke-width="0.9"/>
<line x1="216" y1="721" x2="213.5" y2="728" stroke="#ff0000" stroke-width="0.9"/>
<line x1="218" y1="741" x2="227" y2="745" stroke="#ff0000" stroke-width="0.9"/>
<text x="41.4" y="680.4" font-size="10.8" fill="#0000ff">PRRC2A</text>
<text x="116.5" y="680.4" font-size="10.8" fill="#0000ff">RALGDS</text>
<text x="106.6" y="696.2" font-size="10.8" fill="#0000ff">SIX5</text>
<text x="55.2" y="698.4" font-size="10.8" fill="#0000ff">PRRC2A</text>
<text x="62.4" y="713.8" font-size="10.8" fill="#0000ff">WNT9A</text>
<text x="113.9" y="713.8" font-size="10.8" fill="#0000ff">YIPF2</text>
<text x="92.8" y="728.7" font-size="10.8" fill="#0000ff">MTSS1</text>
<text x="53.6" y="738.9" font-size="10.8" fill="#0000ff">DNAI2</text>
<text x="94.2" y="745.5" font-size="10.8" fill="#0000ff">MOV10</text>
<text x="201.9" y="704.7" font-size="10.8" fill="#ff0000">FANCD2</text>
<text x="151.8" y="713.4" font-size="10.8" fill="#ff0000">MAP3K1</text>
<text x="217.4" y="720" font-size="10.8" fill="#ff0000">CHD2</text>
<text x="132.8" y="729.7" font-size="10.8" fill="#ff0000">ZBTB43</text>
<text x="180.5" y="729.7" font-size="10.8" fill="#ff0000">PDCL</text>
<text x="217.4" y="735.2" font-size="10.8" fill="#ff0000">HFE</text>
<text x="176.4" y="744.4" font-size="10.8" fill="#ff0000">CUL2</text>
<text x="227.7" y="749.7" font-size="10.8" fill="#ff0000">CEPT1</text>
<rect x="32" y="668.6" width="305.5" height="256.8" fill="none" stroke="#8a8a8a" stroke-width="1.1"/>
<line x1="80.4" y1="925.4" x2="80.4" y2="928.4" stroke="#444444" stroke-width="1"/>
<text x="80.4" y="939.4" text-anchor="middle" font-size="12" fill="#222222">-1</text>
<line x1="164" y1="925.4" x2="164" y2="928.4" stroke="#444444" stroke-width="1"/>
<text x="164" y="939.4" text-anchor="middle" font-size="12" fill="#222222">0</text>
<line x1="247.6" y1="925.4" x2="247.6" y2="928.4" stroke="#444444" stroke-width="1"/>
<text x="247.6" y="939.4" text-anchor="middle" font-size="12" fill="#222222">1</text>
<line x1="331.2" y1="925.4" x2="331.2" y2="928.4" stroke="#444444" stroke-width="1"/>
<text x="331.2" y="939.4" text-anchor="middle" font-size="12" fill="#222222">2</text>
<line x1="29" y1="913.3" x2="32" y2="913.3" stroke="#444444" stroke-width="1"/>
<text x="26.7" y="918.2" text-anchor="end" font-size="12" fill="#222222">0</text>
<line x1="29" y1="844.9" x2="32" y2="844.9" stroke="#444444" stroke-width="1"/>
<text x="26.7" y="849.8" text-anchor="end" font-size="12" fill="#222222">2</text>
<line x1="29" y1="776.5" x2="32" y2="776.5" stroke="#444444" stroke-width="1"/>
<text x="26.7" y="781.4" text-anchor="end" font-size="12" fill="#222222">4</text>
<line x1="29" y1="708.1" x2="32" y2="708.1" stroke="#444444" stroke-width="1"/>
<text x="26.7" y="713" text-anchor="end" font-size="12" fill="#222222">6</text>
<text x="184.75" y="955.7" text-anchor="middle" font-size="15.5" fill="#000">log<tspan font-size="10.8" dy="3.2">2</tspan><tspan dy="-3.2"> Fold Change</tspan></text>
<text transform="translate(12,797) rotate(-90)" text-anchor="middle" font-size="15.5" fill="#000">- log<tspan font-size="10.8" dy="3.2">10</tspan><tspan dy="-3.2"> P</tspan></text>
<text transform="translate(1,661.7) scale(0.85,1)" font-size="15" font-weight="bold" fill="#000">E</text>
<text x="244.3" y="847" font-size="13.8" font-style="italic" fill="#1a1a1a">FDR = 0.1</text>
<g>
<line x1="412.45" y1="668.5" x2="412.45" y2="925.4" stroke="#f2f2f2" stroke-width="0.8"/>
<line x1="477.95" y1="668.5" x2="477.95" y2="925.4" stroke="#f2f2f2" stroke-width="0.8"/>
<line x1="543.45" y1="668.5" x2="543.45" y2="925.4" stroke="#f2f2f2" stroke-width="0.8"/>
<line x1="608.95" y1="668.5" x2="608.95" y2="925.4" stroke="#f2f2f2" stroke-width="0.8"/>
<line x1="674.45" y1="668.5" x2="674.45" y2="925.4" stroke="#f2f2f2" stroke-width="0.8"/>
<line x1="379.3" y1="889.78" x2="684.4" y2="889.78" stroke="#f2f2f2" stroke-width="0.8"/>
<line x1="379.3" y1="841.93" x2="684.4" y2="841.93" stroke="#f2f2f2" stroke-width="0.8"/>
<line x1="379.3" y1="794.08" x2="684.4" y2="794.08" stroke="#f2f2f2" stroke-width="0.8"/>
<line x1="379.3" y1="746.23" x2="684.4" y2="746.23" stroke="#f2f2f2" stroke-width="0.8"/>
<line x1="379.3" y1="698.38" x2="684.4" y2="698.38" stroke="#f2f2f2" stroke-width="0.8"/>
<line x1="379.7" y1="668.5" x2="379.7" y2="925.4" stroke="#ebebeb" stroke-width="1.1"/>
<line x1="445.2" y1="668.5" x2="445.2" y2="925.4" stroke="#ebebeb" stroke-width="1.1"/>
<line x1="510.7" y1="668.5" x2="510.7" y2="925.4" stroke="#ebebeb" stroke-width="1.1"/>
<line x1="576.2" y1="668.5" x2="576.2" y2="925.4" stroke="#ebebeb" stroke-width="1.1"/>
<line x1="641.7" y1="668.5" x2="641.7" y2="925.4" stroke="#ebebeb" stroke-width="1.1"/>
<line x1="379.3" y1="913.7" x2="684.4" y2="913.7" stroke="#ebebeb" stroke-width="1.1"/>
<line x1="379.3" y1="865.85" x2="684.4" y2="865.85" stroke="#ebebeb" stroke-width="1.1"/>
<line x1="379.3" y1="818" x2="684.4" y2="818" stroke="#ebebeb" stroke-width="1.1"/>
<line x1="379.3" y1="770.15" x2="684.4" y2="770.15" stroke="#ebebeb" stroke-width="1.1"/>
<line x1="379.3" y1="722.3" x2="684.4" y2="722.3" stroke="#ebebeb" stroke-width="1.1"/>
<line x1="379.3" y1="674.45" x2="684.4" y2="674.45" stroke="#ebebeb" stroke-width="1.1"/>
</g>
<path d="M465.16,754.43 L463.29,781.64 L458.69,797.14 L457.49,814.96 L451.97,832.72 L450.17,848.98 L498.41,848.98 L498.09,843.47 L495.89,825.76 L494.79,803.54 L492.61,783.72 L487.41,753.7 L475.15,752.06 L465.16,754.43Z" fill="#0000ff"/>
<g fill="#0000ff"><circle cx="464.97" cy="755.31" r="3.55"/><circle cx="465.02" cy="758.62" r="3.55"/><circle cx="464.18" cy="763.83" r="3.55"/><circle cx="464.64" cy="768.34" r="3.55"/><circle cx="464.05" cy="771.2" r="3.55"/><circle cx="463.88" cy="776.25" r="3.55"/><circle cx="463.29" cy="779.99" r="3.55"/><circle cx="462.87" cy="783.53" r="3.55"/><circle cx="460.89" cy="787.99" r="3.55"/><circle cx="460.42" cy="791.78" r="3.55"/><circle cx="458.5" cy="796.34" r="3.55"/><circle cx="458.74" cy="800.32" r="3.55"/><circle cx="458.8" cy="804.11" r="3.55"/><circle cx="457.47" cy="809.14" r="3.55"/><circle cx="457.36" cy="812.44" r="3.55"/><circle cx="457.58" cy="816.73" r="3.55"/><circle cx="455.78" cy="821.09" r="3.55"/><circle cx="455.35" cy="823.52" r="3.55"/><circle cx="453.96" cy="827.43" r="3.55"/><circle cx="452.67" cy="831.5" r="3.55"/><circle cx="451.83" cy="834.98" r="3.55"/><circle cx="451.5" cy="840.02" r="3.55"/><circle cx="451.12" cy="844.03" r="3.55"/><circle cx="450.28" cy="849.05" r="3.55"/><circle cx="453.48" cy="848.82" r="3.55"/><circle cx="456.31" cy="848.8" r="3.55"/><circle cx="462.63" cy="848.52" r="3.55"/><circle cx="465.09" cy="849.4" r="3.55"/><circle cx="470.53" cy="848.47" r="3.55"/><circle cx="474.42" cy="849.14" r="3.55"/><circle cx="478.97" cy="848.62" r="3.55"/><circle cx="482.39" cy="848.4" r="3.55"/><circle cx="485.82" cy="849.14" r="3.55"/><circle cx="490.18" cy="849.22" r="3.55"/><circle cx="493.56" cy="849.22" r="3.55"/><circle cx="497.95" cy="848.34" r="3.55"/><circle cx="498.25" cy="843.75" r="3.55"/><circle cx="498.39" cy="841.28" r="3.55"/><circle cx="497.01" cy="835.86" r="3.55"/><circle cx="496.31" cy="832.7" r="3.55"/><circle cx="496.61" cy="828.33" r="3.55"/><circle cx="495.83" cy="824.83" r="3.55"/><circle cx="495.87" cy="820.05" r="3.55"/><circle cx="495.14" cy="816.33" r="3.55"/><circle cx="495.65" cy="812.47" r="3.55"/><circle cx="495.53" cy="807.74" r="3.55"/><circle cx="494.88" cy="803.23" r="3.55"/><circle cx="494.34" cy="800.05" r="3.55"/><circle cx="494.46" cy="795.36" r="3.55"/><circle cx="493.63" cy="790.8" r="3.55"/><circle cx="492.58" cy="787.96" r="3.55"/><circle cx="492.5" cy="783.47" r="3.55"/><circle cx="492.16" cy="778.8" r="3.55"/><circle cx="490.63" cy="775.56" r="3.55"/><circle cx="490.37" cy="771.62" r="3.55"/><circle cx="489.86" cy="766.5" r="3.55"/><circle cx="489.45" cy="761.78" r="3.55"/><circle cx="488.24" cy="758.57" r="3.55"/><circle cx="487.4" cy="755.16" r="3.55"/><circle cx="484.93" cy="753.86" r="3.55"/><circle cx="479.53" cy="753.06" r="3.55"/><circle cx="476.38" cy="752.79" r="3.55"/><circle cx="473.01" cy="752.44" r="3.55"/><circle cx="467.77" cy="754.32" r="3.55"/></g>
<g fill="#0000ff"><circle cx="454.5" cy="693.2" r="3.55"/><circle cx="471.6" cy="704.9" r="3.55"/><circle cx="477.4" cy="712" r="3.55"/><circle cx="454.5" cy="720.5" r="3.55"/><circle cx="456.1" cy="722.7" r="3.55"/><circle cx="461.6" cy="729.3" r="3.55"/><circle cx="485.2" cy="733.8" r="3.55"/><circle cx="439" cy="734.2" r="3.55"/><circle cx="466.1" cy="740" r="3.55"/><circle cx="463.4" cy="748.2" r="3.55"/><circle cx="480.1" cy="744.2" r="3.55"/><circle cx="485.6" cy="748.2" r="3.55"/><circle cx="450.1" cy="760.4" r="3.55"/><circle cx="449" cy="766" r="3.55"/><circle cx="457.9" cy="762.6" r="3.55"/><circle cx="455.2" cy="775.3" r="3.55"/><circle cx="446.8" cy="783.7" r="3.55"/><circle cx="451.2" cy="784.8" r="3.55"/><circle cx="392.4" cy="796" r="3.55"/><circle cx="414.2" cy="849.2" r="3.55"/><circle cx="436.8" cy="844.3" r="3.55"/><circle cx="441.9" cy="836.6" r="3.55"/><circle cx="436.8" cy="828.1" r="3.55"/><circle cx="436.8" cy="821" r="3.55"/><circle cx="439" cy="816.6" r="3.55"/><circle cx="438.4" cy="806.2" r="3.55"/><circle cx="444.6" cy="811" r="3.55"/><circle cx="445.7" cy="783.8" r="3.55"/><circle cx="451.2" cy="785.5" r="3.55"/><circle cx="447.9" cy="797.1" r="3.55"/><circle cx="453.4" cy="800" r="3.55"/><circle cx="455.7" cy="775.5" r="3.55"/><circle cx="445.7" cy="826.6" r="3.55"/><circle cx="470" cy="752" r="3.55"/><circle cx="478" cy="751" r="3.55"/><circle cx="466" cy="756" r="3.55"/></g>
<path d="M522.94,848.98 L579.55,848.98 L588.15,835.64 L581.01,823.71 L575.7,805.03 L570.6,787.34 L556.01,771.82 L545.49,770.13 L536.67,774.58 L534.24,791.78 L528.94,804.99 L526.39,822.91 L522.94,848.98Z" fill="#ff0000"/>
<g fill="#ff0000"><circle cx="523.13" cy="848.55" r="3.55"/><circle cx="527.98" cy="848.48" r="3.55"/><circle cx="531.6" cy="849.13" r="3.55"/><circle cx="536.17" cy="849.36" r="3.55"/><circle cx="540.88" cy="848.53" r="3.55"/><circle cx="543.64" cy="849.41" r="3.55"/><circle cx="549.58" cy="848.41" r="3.55"/><circle cx="552.28" cy="849.02" r="3.55"/><circle cx="556.29" cy="848.74" r="3.55"/><circle cx="560.25" cy="849.06" r="3.55"/><circle cx="563.69" cy="849" r="3.55"/><circle cx="568.89" cy="848.68" r="3.55"/><circle cx="572.32" cy="848.64" r="3.55"/><circle cx="577.09" cy="848.93" r="3.55"/><circle cx="580.28" cy="847.53" r="3.55"/><circle cx="582.93" cy="844.66" r="3.55"/><circle cx="584.94" cy="841.27" r="3.55"/><circle cx="587.42" cy="836.02" r="3.55"/><circle cx="587.7" cy="834.53" r="3.55"/><circle cx="584.33" cy="829.98" r="3.55"/><circle cx="582.74" cy="827.15" r="3.55"/><circle cx="580.81" cy="822.82" r="3.55"/><circle cx="579.83" cy="819.41" r="3.55"/><circle cx="578.24" cy="816.13" r="3.55"/><circle cx="577.55" cy="811.76" r="3.55"/><circle cx="576.72" cy="806.83" r="3.55"/><circle cx="575.72" cy="803.28" r="3.55"/><circle cx="574.48" cy="799.5" r="3.55"/><circle cx="572.94" cy="795.71" r="3.55"/><circle cx="571.81" cy="791.75" r="3.55"/><circle cx="571.3" cy="787.83" r="3.55"/><circle cx="568.04" cy="784.43" r="3.55"/><circle cx="565.03" cy="781.77" r="3.55"/><circle cx="562.58" cy="778.5" r="3.55"/><circle cx="559.28" cy="774.73" r="3.55"/><circle cx="557.43" cy="772.15" r="3.55"/><circle cx="553.45" cy="771.16" r="3.55"/><circle cx="548.68" cy="770.43" r="3.55"/><circle cx="544.95" cy="770.24" r="3.55"/><circle cx="541.36" cy="772.53" r="3.55"/><circle cx="537.84" cy="773.45" r="3.55"/><circle cx="536.66" cy="777.07" r="3.55"/><circle cx="535.48" cy="781.92" r="3.55"/><circle cx="534.56" cy="786.53" r="3.55"/><circle cx="534.25" cy="790.03" r="3.55"/><circle cx="533.64" cy="794.31" r="3.55"/><circle cx="532.55" cy="796.24" r="3.55"/><circle cx="530.42" cy="801.97" r="3.55"/><circle cx="528.32" cy="805.83" r="3.55"/><circle cx="528.38" cy="808.96" r="3.55"/><circle cx="527.62" cy="813.8" r="3.55"/><circle cx="527.58" cy="817.54" r="3.55"/><circle cx="526.48" cy="822.09" r="3.55"/><circle cx="526.02" cy="825.12" r="3.55"/><circle cx="525.39" cy="829.12" r="3.55"/><circle cx="524.62" cy="833.23" r="3.55"/><circle cx="524.47" cy="837.4" r="3.55"/><circle cx="523.76" cy="841.59" r="3.55"/><circle cx="523.87" cy="845.48" r="3.55"/></g>
<g fill="#ff0000"><circle cx="591.8" cy="679.3" r="3.55"/><circle cx="554" cy="715" r="3.55"/><circle cx="548.6" cy="719.8" r="3.55"/><circle cx="589.9" cy="724.4" r="3.55"/><circle cx="539.2" cy="743.3" r="3.55"/><circle cx="537.8" cy="748.7" r="3.55"/><circle cx="540.5" cy="750.6" r="3.55"/><circle cx="548.1" cy="748.7" r="3.55"/><circle cx="554" cy="754.1" r="3.55"/><circle cx="552.7" cy="756.8" r="3.55"/><circle cx="577" cy="750.6" r="3.55"/><circle cx="541.9" cy="759.5" r="3.55"/><circle cx="569.7" cy="765.5" r="3.55"/><circle cx="583.2" cy="767.6" r="3.55"/><circle cx="554" cy="768.2" r="3.55"/><circle cx="535.1" cy="764.4" r="3.55"/><circle cx="624.8" cy="769" r="3.55"/><circle cx="643.9" cy="772.2" r="3.55"/><circle cx="635.8" cy="774.4" r="3.55"/><circle cx="616.7" cy="773" r="3.55"/><circle cx="595.9" cy="775.2" r="3.55"/><circle cx="616.1" cy="783.8" r="3.55"/><circle cx="629.6" cy="786" r="3.55"/><circle cx="598.6" cy="782.5" r="3.55"/><circle cx="583.7" cy="783.8" r="3.55"/><circle cx="575.6" cy="779" r="3.55"/><circle cx="564.8" cy="779.8" r="3.55"/><circle cx="556.7" cy="779.8" r="3.55"/><circle cx="551.3" cy="783.8" r="3.55"/><circle cx="540.5" cy="774.4" r="3.55"/><circle cx="536.5" cy="775.7" r="3.55"/><circle cx="533.8" cy="783.8" r="3.55"/><circle cx="663.4" cy="809.4" r="3.55"/><circle cx="670.5" cy="832.3" r="3.55"/><circle cx="632.4" cy="798.9" r="3.55"/><circle cx="629" cy="804.2" r="3.55"/><circle cx="616.7" cy="810.7" r="3.55"/><circle cx="613.2" cy="822.5" r="3.55"/><circle cx="610.1" cy="808.1" r="3.55"/><circle cx="602.7" cy="822" r="3.55"/><circle cx="611.4" cy="833.8" r="3.55"/><circle cx="607.5" cy="837" r="3.55"/><circle cx="603.5" cy="840.9" r="3.55"/><circle cx="594.3" cy="811.5" r="3.55"/><circle cx="586.5" cy="814.1" r="3.55"/><circle cx="589.1" cy="825.2" r="3.55"/><circle cx="583.8" cy="827.8" r="3.55"/><circle cx="591.7" cy="834.4" r="3.55"/><circle cx="583.8" cy="846.2" r="3.55"/><circle cx="581.2" cy="846.2" r="3.55"/><circle cx="608" cy="796.3" r="3.55"/><circle cx="602.2" cy="790.5" r="3.55"/><circle cx="600.1" cy="801" r="3.55"/><circle cx="598.3" cy="783.1" r="3.55"/><circle cx="596.4" cy="775.3" r="3.55"/><circle cx="629.8" cy="785.8" r="3.55"/><circle cx="616.7" cy="784.5" r="3.55"/><circle cx="616.7" cy="773.2" r="3.55"/><circle cx="635.6" cy="774.7" r="3.55"/><circle cx="644.3" cy="772.6" r="3.55"/><circle cx="568" cy="760" r="3.55"/><circle cx="560" cy="770" r="3.55"/><circle cx="545" cy="765" r="3.55"/><circle cx="580" cy="795" r="3.55"/><circle cx="587" cy="800" r="3.55"/><circle cx="574.6" cy="779.2" r="3.55"/><circle cx="583.8" cy="783.1" r="3.55"/><circle cx="579.9" cy="795" r="3.55"/><circle cx="586.5" cy="798.9" r="3.55"/><circle cx="575.9" cy="809.4" r="3.55"/><circle cx="585.1" cy="813.4" r="3.55"/><circle cx="578.6" cy="825.2" r="3.55"/><circle cx="589.1" cy="825.2" r="3.55"/><circle cx="583.8" cy="835.7" r="3.55"/><circle cx="591.7" cy="835.7" r="3.55"/><circle cx="581.2" cy="846.2" r="3.55"/><circle cx="595.6" cy="831.7" r="3.55"/><circle cx="599.6" cy="798.9" r="3.55"/><circle cx="595.6" cy="775.3" r="3.55"/></g>
<path d="M465.47,854.02 L466.58,864.03 L469.58,878.91 L478.29,896.24 L491.19,906.34 L502.9,910.71 L510.58,912.63 L511.58,913.07 L525.55,910.7 L543.3,901.82 L554.98,893.02 L566.96,878.12 L572.79,869.32 L576.86,858.44 L575.07,854.02 L521.21,854.02 L517.47,870.56 L511.32,910.28 L510.29,910.29 L503.04,870.58 L499.55,854.02 L465.47,854.02Z" fill="#a9a9a9"/>
<g fill="#a9a9a9"><circle cx="465.59" cy="855.1" r="3.55"/><circle cx="466.39" cy="858.25" r="3.55"/><circle cx="466.3" cy="862.06" r="3.55"/><circle cx="467.75" cy="867.27" r="3.55"/><circle cx="467.91" cy="871.65" r="3.55"/><circle cx="468.96" cy="873.99" r="3.55"/><circle cx="469.34" cy="878.96" r="3.55"/><circle cx="471.05" cy="882.3" r="3.55"/><circle cx="473.19" cy="886.45" r="3.55"/><circle cx="475.23" cy="890.59" r="3.55"/><circle cx="477.55" cy="893.41" r="3.55"/><circle cx="479.17" cy="896.89" r="3.55"/><circle cx="482.84" cy="899.44" r="3.55"/><circle cx="485.51" cy="901.43" r="3.55"/><circle cx="489.1" cy="904.9" r="3.55"/><circle cx="492.96" cy="907.28" r="3.55"/><circle cx="496.05" cy="907.84" r="3.55"/><circle cx="499.88" cy="909.53" r="3.55"/><circle cx="503.83" cy="911.32" r="3.55"/><circle cx="507.98" cy="911.77" r="3.55"/><circle cx="511.73" cy="913.22" r="3.55"/><circle cx="515.77" cy="912.62" r="3.55"/><circle cx="518.98" cy="911.8" r="3.55"/><circle cx="523.55" cy="911.28" r="3.55"/><circle cx="528.25" cy="910.1" r="3.55"/><circle cx="531.42" cy="908.22" r="3.55"/><circle cx="535.04" cy="906.26" r="3.55"/><circle cx="538.68" cy="903.69" r="3.55"/><circle cx="541.63" cy="902.39" r="3.55"/><circle cx="545.1" cy="899.8" r="3.55"/><circle cx="548.64" cy="897.33" r="3.55"/><circle cx="551.93" cy="895.78" r="3.55"/><circle cx="555.45" cy="893.4" r="3.55"/><circle cx="558.1" cy="889.49" r="3.55"/><circle cx="560.72" cy="886.62" r="3.55"/><circle cx="563.06" cy="882.08" r="3.55"/><circle cx="565.91" cy="879.57" r="3.55"/><circle cx="567.75" cy="876.69" r="3.55"/><circle cx="571.05" cy="872.76" r="3.55"/><circle cx="572.45" cy="869.25" r="3.55"/><circle cx="573.88" cy="865.71" r="3.55"/><circle cx="575.1" cy="862.28" r="3.55"/><circle cx="576.8" cy="858.35" r="3.55"/><circle cx="574.46" cy="854.46" r="3.55"/><circle cx="572.31" cy="853.5" r="3.55"/><circle cx="568.16" cy="854.6" r="3.55"/><circle cx="563.33" cy="854.36" r="3.55"/><circle cx="558.58" cy="854.05" r="3.55"/><circle cx="555.57" cy="853.84" r="3.55"/><circle cx="550.57" cy="854.26" r="3.55"/><circle cx="546.96" cy="853.51" r="3.55"/><circle cx="542.84" cy="854.58" r="3.55"/><circle cx="538.11" cy="853.78" r="3.55"/><circle cx="535.07" cy="854.54" r="3.55"/><circle cx="530.23" cy="854.53" r="3.55"/><circle cx="526.31" cy="853.44" r="3.55"/><circle cx="522.4" cy="854.24" r="3.55"/><circle cx="520.64" cy="857.67" r="3.55"/><circle cx="519.81" cy="860.85" r="3.55"/><circle cx="518.44" cy="864.65" r="3.55"/><circle cx="517.1" cy="869.11" r="3.55"/><circle cx="517.24" cy="873.53" r="3.55"/><circle cx="516.76" cy="877.51" r="3.55"/><circle cx="515.45" cy="880.6" r="3.55"/><circle cx="515.5" cy="885.76" r="3.55"/><circle cx="514.45" cy="888.3" r="3.55"/><circle cx="513.61" cy="893.73" r="3.55"/><circle cx="513.13" cy="897.49" r="3.55"/><circle cx="512.4" cy="901.67" r="3.55"/><circle cx="511.75" cy="904.51" r="3.55"/><circle cx="511.81" cy="909.14" r="3.55"/><circle cx="510.16" cy="908.32" r="3.55"/><circle cx="508.87" cy="904.57" r="3.55"/><circle cx="508.2" cy="900.4" r="3.55"/><circle cx="508.02" cy="896.59" r="3.55"/><circle cx="506.93" cy="891.1" r="3.55"/><circle cx="505.84" cy="887.29" r="3.55"/><circle cx="506.11" cy="884.01" r="3.55"/><circle cx="505.29" cy="880.82" r="3.55"/><circle cx="503.62" cy="876.5" r="3.55"/><circle cx="503.01" cy="871.84" r="3.55"/><circle cx="502.27" cy="868.24" r="3.55"/><circle cx="501.53" cy="863.92" r="3.55"/><circle cx="500.96" cy="860.56" r="3.55"/><circle cx="500.6" cy="856.18" r="3.55"/><circle cx="498.33" cy="854.57" r="3.55"/><circle cx="492.41" cy="854.53" r="3.55"/><circle cx="490.06" cy="854.55" r="3.55"/><circle cx="485.18" cy="854.23" r="3.55"/><circle cx="480.67" cy="854.56" r="3.55"/><circle cx="476.85" cy="853.56" r="3.55"/><circle cx="473.74" cy="853.5" r="3.55"/><circle cx="469.08" cy="853.48" r="3.55"/></g>
<g fill="#a9a9a9"><circle cx="420.7" cy="858.4" r="3.55"/><circle cx="425.7" cy="859.9" r="3.55"/><circle cx="431.5" cy="861.5" r="3.55"/><circle cx="440.7" cy="853.8" r="3.55"/><circle cx="446.8" cy="861.5" r="3.55"/><circle cx="449.9" cy="870.7" r="3.55"/><circle cx="457.5" cy="881.4" r="3.55"/><circle cx="459" cy="873.7" r="3.55"/><circle cx="452.9" cy="858.4" r="3.55"/><circle cx="448.3" cy="853.8" r="3.55"/><circle cx="436.1" cy="858.3" r="3.55"/><circle cx="443.5" cy="862.1" r="3.55"/><circle cx="452.3" cy="872.1" r="3.55"/><circle cx="456.8" cy="883.2" r="3.55"/><circle cx="467.9" cy="878.7" r="3.55"/><circle cx="470" cy="888" r="3.55"/><circle cx="583.2" cy="886" r="3.55"/><circle cx="590.9" cy="879.9" r="3.55"/><circle cx="597" cy="875.3" r="3.55"/><circle cx="603.1" cy="870.7" r="3.55"/><circle cx="607.7" cy="870.7" r="3.55"/><circle cx="606.2" cy="878.3" r="3.55"/><circle cx="593.9" cy="866.1" r="3.55"/><circle cx="592.4" cy="855.3" r="3.55"/><circle cx="583.2" cy="856.9" r="3.55"/><circle cx="572.5" cy="876.8" r="3.55"/><circle cx="544.9" cy="902.8" r="3.55"/><circle cx="557.1" cy="893.6" r="3.55"/><circle cx="580.1" cy="887.5" r="3.55"/><circle cx="596.4" cy="865.9" r="3.55"/><circle cx="600.9" cy="875.1" r="3.55"/><circle cx="590.4" cy="877.7" r="3.55"/><circle cx="575.9" cy="875.1" r="3.55"/><circle cx="565" cy="885" r="3.55"/><circle cx="552" cy="897" r="3.55"/><circle cx="536" cy="906" r="3.55"/></g>
<line x1="510.7" y1="668.5" x2="510.7" y2="925.4" stroke="#333" stroke-width="1" stroke-dasharray="0.96 2.93 3.74 2.54" stroke-dashoffset="8.52"/>
<line x1="379.3" y1="851.5" x2="684.4" y2="851.5" stroke="#333" stroke-width="1" stroke-dasharray="1 2.72" stroke-dashoffset="0.27"/>
<line x1="448" y1="686" x2="453.5" y2="691" stroke="#0000ff" stroke-width="0.9"/>
<line x1="437" y1="697" x2="455" y2="720" stroke="#0000ff" stroke-width="0.9"/>
<line x1="484" y1="701" x2="478" y2="710" stroke="#0000ff" stroke-width="0.9"/>
<line x1="469" y1="724" x2="463" y2="728" stroke="#0000ff" stroke-width="0.9"/>
<line x1="505" y1="712" x2="486" y2="732" stroke="#0000ff" stroke-width="0.9"/>
<line x1="447" y1="745" x2="462" y2="748" stroke="#0000ff" stroke-width="0.9"/>
<line x1="446" y1="757" x2="462" y2="750" stroke="#0000ff" stroke-width="0.9"/>
<line x1="496" y1="742" x2="481" y2="744" stroke="#0000ff" stroke-width="0.9"/>
<line x1="545" y1="703" x2="548" y2="718" stroke="#ff0000" stroke-width="0.9"/>
<line x1="526" y1="731" x2="538" y2="742" stroke="#ff0000" stroke-width="0.9"/>
<line x1="548" y1="731" x2="541" y2="746" stroke="#ff0000" stroke-width="0.9"/>
<text x="424.6" y="684.9" font-size="10.8" fill="#0000ff">LAMB2</text>
<text x="405.7" y="700" font-size="10.8" fill="#0000ff">CARS</text>
<text x="459.4" y="700" font-size="10.8" fill="#0000ff">TBC1D22A</text>
<text x="413.5" y="715.1" font-size="10.8" fill="#0000ff">TP53AIP1</text>
<text x="505.4" y="716.4" font-size="10.8" fill="#0000ff">C14orf93</text>
<text x="415.1" y="730.6" font-size="10.8" fill="#0000ff">AK1</text>
<text x="469.6" y="726.2" font-size="10.8" fill="#0000ff">LARS</text>
<text x="454.1" y="741" font-size="10.8" fill="#0000ff">POLR1E</text>
<text x="382.4" y="746.2" font-size="10.8" fill="#0000ff">ADGRG1</text>
<text x="425.7" y="746.2" font-size="10.8" fill="#0000ff">ACSF2</text>
<text x="496.7" y="745" font-size="10.8" fill="#0000ff">MAP2K5</text>
<text x="411.3" y="761" font-size="10.8" fill="#0000ff">LAMP1</text>
<text x="488.2" y="761" font-size="10.8" fill="#0000ff">IDH3B</text>
<text x="570.8" y="691.5" font-size="10.8" fill="#ff0000">MMP12</text>
<text x="529.2" y="701" font-size="10.8" fill="#ff0000">PEA15</text>
<text x="558.1" y="716.4" font-size="10.8" fill="#ff0000">IL19</text>
<text x="505.4" y="731.5" font-size="10.8" fill="#ff0000">NFKBIB</text>
<text x="548.1" y="732.6" font-size="10.8" fill="#ff0000">BICDL1</text>
<text x="593.7" y="732.6" font-size="10.8" fill="#ff0000">NAMPT</text>
<text x="551.8" y="747.4" font-size="10.8" fill="#ff0000">ADAM19</text>
<text x="514.8" y="761.7" font-size="10.8" fill="#ff0000">STS</text>
<text x="573.7" y="762.5" font-size="10.8" fill="#ff0000">NOS2</text>
<rect x="379.3" y="668.5" width="305.1" height="256.9" fill="none" stroke="#8a8a8a" stroke-width="1.1"/>
<line x1="379.7" y1="925.4" x2="379.7" y2="928.4" stroke="#444444" stroke-width="1"/>
<text x="379.7" y="939.4" text-anchor="middle" font-size="12" fill="#222222">-2</text>
<line x1="445.2" y1="925.4" x2="445.2" y2="928.4" stroke="#444444" stroke-width="1"/>
<text x="445.2" y="939.4" text-anchor="middle" font-size="12" fill="#222222">-1</text>
<line x1="510.7" y1="925.4" x2="510.7" y2="928.4" stroke="#444444" stroke-width="1"/>
<text x="510.7" y="939.4" text-anchor="middle" font-size="12" fill="#222222">0</text>
<line x1="576.2" y1="925.4" x2="576.2" y2="928.4" stroke="#444444" stroke-width="1"/>
<text x="576.2" y="939.4" text-anchor="middle" font-size="12" fill="#222222">1</text>
<line x1="641.7" y1="925.4" x2="641.7" y2="928.4" stroke="#444444" stroke-width="1"/>
<text x="641.7" y="939.4" text-anchor="middle" font-size="12" fill="#222222">2</text>
<line x1="376.3" y1="913.7" x2="379.3" y2="913.7" stroke="#444444" stroke-width="1"/>
<text x="374" y="918.6" text-anchor="end" font-size="12" fill="#222222">0</text>
<line x1="376.3" y1="865.85" x2="379.3" y2="865.85" stroke="#444444" stroke-width="1"/>
<text x="374" y="870.75" text-anchor="end" font-size="12" fill="#222222">1</text>
<line x1="376.3" y1="818" x2="379.3" y2="818" stroke="#444444" stroke-width="1"/>
<text x="374" y="822.9" text-anchor="end" font-size="12" fill="#222222">2</text>
<line x1="376.3" y1="770.15" x2="379.3" y2="770.15" stroke="#444444" stroke-width="1"/>
<text x="374" y="775.05" text-anchor="end" font-size="12" fill="#222222">3</text>
<line x1="376.3" y1="722.3" x2="379.3" y2="722.3" stroke="#444444" stroke-width="1"/>
<text x="374" y="727.2" text-anchor="end" font-size="12" fill="#222222">4</text>
<line x1="376.3" y1="674.45" x2="379.3" y2="674.45" stroke="#444444" stroke-width="1"/>
<text x="374" y="679.35" text-anchor="end" font-size="12" fill="#222222">5</text>
<text x="531.85" y="955.7" text-anchor="middle" font-size="15.5" fill="#000">log<tspan font-size="10.8" dy="3.2">2</tspan><tspan dy="-3.2"> Fold Change</tspan></text>
<text transform="translate(359,796.95) rotate(-90)" text-anchor="middle" font-size="15.5" fill="#000">- log<tspan font-size="10.8" dy="3.2">10</tspan><tspan dy="-3.2"> P</tspan></text>
<text transform="translate(347.8,661.7) scale(0.85,1)" font-size="15" font-weight="bold" fill="#000">F</text>
<text x="591.2" y="851.6" font-size="13.8" font-style="italic" fill="#1a1a1a">P = 0.05</text>
</svg></body></html>
